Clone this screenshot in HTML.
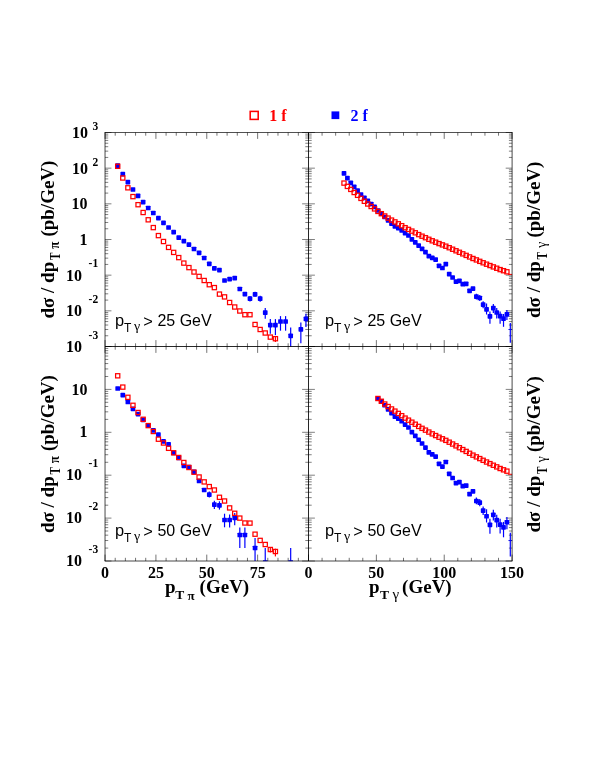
<!DOCTYPE html>
<html><head><meta charset="utf-8"><title>plot</title>
<style>
html,body{margin:0;padding:0;background:#fff;}
body{width:590px;height:763px;overflow:hidden;font-family:"Liberation Serif",serif;}
svg{display:block;will-change:transform;}
</style></head>
<body>
<svg width="590" height="763" viewBox="0 0 590 763">
<rect x="0" y="0" width="590" height="763" fill="#ffffff"/>
<g id="ticks" shape-rendering="auto">
<line x1="105.04" y1="132.5" x2="111.44" y2="132.5" stroke="#000" stroke-width="0.5"/>
<line x1="105.04" y1="157.43" x2="108.24" y2="157.43" stroke="#000" stroke-width="0.5"/>
<line x1="105.04" y1="151.15" x2="108.24" y2="151.15" stroke="#000" stroke-width="0.5"/>
<line x1="105.04" y1="146.69" x2="108.24" y2="146.69" stroke="#000" stroke-width="0.5"/>
<line x1="105.04" y1="143.24" x2="108.24" y2="143.24" stroke="#000" stroke-width="0.5"/>
<line x1="105.04" y1="140.41" x2="108.24" y2="140.41" stroke="#000" stroke-width="0.5"/>
<line x1="105.04" y1="138.02" x2="108.24" y2="138.02" stroke="#000" stroke-width="0.5"/>
<line x1="105.04" y1="135.96" x2="108.24" y2="135.96" stroke="#000" stroke-width="0.5"/>
<line x1="105.04" y1="134.13" x2="108.24" y2="134.13" stroke="#000" stroke-width="0.5"/>
<line x1="105.04" y1="168.17" x2="111.44" y2="168.17" stroke="#000" stroke-width="0.5"/>
<line x1="105.04" y1="193.1" x2="108.24" y2="193.1" stroke="#000" stroke-width="0.5"/>
<line x1="105.04" y1="186.82" x2="108.24" y2="186.82" stroke="#000" stroke-width="0.5"/>
<line x1="105.04" y1="182.36" x2="108.24" y2="182.36" stroke="#000" stroke-width="0.5"/>
<line x1="105.04" y1="178.9" x2="108.24" y2="178.9" stroke="#000" stroke-width="0.5"/>
<line x1="105.04" y1="176.08" x2="108.24" y2="176.08" stroke="#000" stroke-width="0.5"/>
<line x1="105.04" y1="173.69" x2="108.24" y2="173.69" stroke="#000" stroke-width="0.5"/>
<line x1="105.04" y1="171.62" x2="108.24" y2="171.62" stroke="#000" stroke-width="0.5"/>
<line x1="105.04" y1="169.8" x2="108.24" y2="169.8" stroke="#000" stroke-width="0.5"/>
<line x1="105.04" y1="203.83" x2="111.44" y2="203.83" stroke="#000" stroke-width="0.5"/>
<line x1="105.04" y1="228.76" x2="108.24" y2="228.76" stroke="#000" stroke-width="0.5"/>
<line x1="105.04" y1="222.48" x2="108.24" y2="222.48" stroke="#000" stroke-width="0.5"/>
<line x1="105.04" y1="218.03" x2="108.24" y2="218.03" stroke="#000" stroke-width="0.5"/>
<line x1="105.04" y1="214.57" x2="108.24" y2="214.57" stroke="#000" stroke-width="0.5"/>
<line x1="105.04" y1="211.75" x2="108.24" y2="211.75" stroke="#000" stroke-width="0.5"/>
<line x1="105.04" y1="209.36" x2="108.24" y2="209.36" stroke="#000" stroke-width="0.5"/>
<line x1="105.04" y1="207.29" x2="108.24" y2="207.29" stroke="#000" stroke-width="0.5"/>
<line x1="105.04" y1="205.47" x2="108.24" y2="205.47" stroke="#000" stroke-width="0.5"/>
<line x1="105.04" y1="239.5" x2="111.44" y2="239.5" stroke="#000" stroke-width="0.5"/>
<line x1="105.04" y1="264.43" x2="108.24" y2="264.43" stroke="#000" stroke-width="0.5"/>
<line x1="105.04" y1="258.15" x2="108.24" y2="258.15" stroke="#000" stroke-width="0.5"/>
<line x1="105.04" y1="253.69" x2="108.24" y2="253.69" stroke="#000" stroke-width="0.5"/>
<line x1="105.04" y1="250.24" x2="108.24" y2="250.24" stroke="#000" stroke-width="0.5"/>
<line x1="105.04" y1="247.41" x2="108.24" y2="247.41" stroke="#000" stroke-width="0.5"/>
<line x1="105.04" y1="245.02" x2="108.24" y2="245.02" stroke="#000" stroke-width="0.5"/>
<line x1="105.04" y1="242.96" x2="108.24" y2="242.96" stroke="#000" stroke-width="0.5"/>
<line x1="105.04" y1="241.13" x2="108.24" y2="241.13" stroke="#000" stroke-width="0.5"/>
<line x1="105.04" y1="275.17" x2="111.44" y2="275.17" stroke="#000" stroke-width="0.5"/>
<line x1="105.04" y1="300.1" x2="108.24" y2="300.1" stroke="#000" stroke-width="0.5"/>
<line x1="105.04" y1="293.82" x2="108.24" y2="293.82" stroke="#000" stroke-width="0.5"/>
<line x1="105.04" y1="289.36" x2="108.24" y2="289.36" stroke="#000" stroke-width="0.5"/>
<line x1="105.04" y1="285.9" x2="108.24" y2="285.9" stroke="#000" stroke-width="0.5"/>
<line x1="105.04" y1="283.08" x2="108.24" y2="283.08" stroke="#000" stroke-width="0.5"/>
<line x1="105.04" y1="280.69" x2="108.24" y2="280.69" stroke="#000" stroke-width="0.5"/>
<line x1="105.04" y1="278.62" x2="108.24" y2="278.62" stroke="#000" stroke-width="0.5"/>
<line x1="105.04" y1="276.8" x2="108.24" y2="276.8" stroke="#000" stroke-width="0.5"/>
<line x1="105.04" y1="310.83" x2="111.44" y2="310.83" stroke="#000" stroke-width="0.5"/>
<line x1="105.04" y1="335.76" x2="108.24" y2="335.76" stroke="#000" stroke-width="0.5"/>
<line x1="105.04" y1="329.48" x2="108.24" y2="329.48" stroke="#000" stroke-width="0.5"/>
<line x1="105.04" y1="325.03" x2="108.24" y2="325.03" stroke="#000" stroke-width="0.5"/>
<line x1="105.04" y1="321.57" x2="108.24" y2="321.57" stroke="#000" stroke-width="0.5"/>
<line x1="105.04" y1="318.75" x2="108.24" y2="318.75" stroke="#000" stroke-width="0.5"/>
<line x1="105.04" y1="316.36" x2="108.24" y2="316.36" stroke="#000" stroke-width="0.5"/>
<line x1="105.04" y1="314.29" x2="108.24" y2="314.29" stroke="#000" stroke-width="0.5"/>
<line x1="105.04" y1="312.47" x2="108.24" y2="312.47" stroke="#000" stroke-width="0.5"/>
<line x1="105.04" y1="346.5" x2="111.44" y2="346.5" stroke="#000" stroke-width="0.5"/>
<line x1="308.5" y1="132.5" x2="314.9" y2="132.5" stroke="#000" stroke-width="0.5"/>
<line x1="308.5" y1="132.5" x2="302.1" y2="132.5" stroke="#000" stroke-width="0.5"/>
<line x1="308.5" y1="157.43" x2="311.7" y2="157.43" stroke="#000" stroke-width="0.5"/>
<line x1="308.5" y1="157.43" x2="305.3" y2="157.43" stroke="#000" stroke-width="0.5"/>
<line x1="308.5" y1="151.15" x2="311.7" y2="151.15" stroke="#000" stroke-width="0.5"/>
<line x1="308.5" y1="151.15" x2="305.3" y2="151.15" stroke="#000" stroke-width="0.5"/>
<line x1="308.5" y1="146.69" x2="311.7" y2="146.69" stroke="#000" stroke-width="0.5"/>
<line x1="308.5" y1="146.69" x2="305.3" y2="146.69" stroke="#000" stroke-width="0.5"/>
<line x1="308.5" y1="143.24" x2="311.7" y2="143.24" stroke="#000" stroke-width="0.5"/>
<line x1="308.5" y1="143.24" x2="305.3" y2="143.24" stroke="#000" stroke-width="0.5"/>
<line x1="308.5" y1="140.41" x2="311.7" y2="140.41" stroke="#000" stroke-width="0.5"/>
<line x1="308.5" y1="140.41" x2="305.3" y2="140.41" stroke="#000" stroke-width="0.5"/>
<line x1="308.5" y1="138.02" x2="311.7" y2="138.02" stroke="#000" stroke-width="0.5"/>
<line x1="308.5" y1="138.02" x2="305.3" y2="138.02" stroke="#000" stroke-width="0.5"/>
<line x1="308.5" y1="135.96" x2="311.7" y2="135.96" stroke="#000" stroke-width="0.5"/>
<line x1="308.5" y1="135.96" x2="305.3" y2="135.96" stroke="#000" stroke-width="0.5"/>
<line x1="308.5" y1="134.13" x2="311.7" y2="134.13" stroke="#000" stroke-width="0.5"/>
<line x1="308.5" y1="134.13" x2="305.3" y2="134.13" stroke="#000" stroke-width="0.5"/>
<line x1="308.5" y1="168.17" x2="314.9" y2="168.17" stroke="#000" stroke-width="0.5"/>
<line x1="308.5" y1="168.17" x2="302.1" y2="168.17" stroke="#000" stroke-width="0.5"/>
<line x1="308.5" y1="193.1" x2="311.7" y2="193.1" stroke="#000" stroke-width="0.5"/>
<line x1="308.5" y1="193.1" x2="305.3" y2="193.1" stroke="#000" stroke-width="0.5"/>
<line x1="308.5" y1="186.82" x2="311.7" y2="186.82" stroke="#000" stroke-width="0.5"/>
<line x1="308.5" y1="186.82" x2="305.3" y2="186.82" stroke="#000" stroke-width="0.5"/>
<line x1="308.5" y1="182.36" x2="311.7" y2="182.36" stroke="#000" stroke-width="0.5"/>
<line x1="308.5" y1="182.36" x2="305.3" y2="182.36" stroke="#000" stroke-width="0.5"/>
<line x1="308.5" y1="178.9" x2="311.7" y2="178.9" stroke="#000" stroke-width="0.5"/>
<line x1="308.5" y1="178.9" x2="305.3" y2="178.9" stroke="#000" stroke-width="0.5"/>
<line x1="308.5" y1="176.08" x2="311.7" y2="176.08" stroke="#000" stroke-width="0.5"/>
<line x1="308.5" y1="176.08" x2="305.3" y2="176.08" stroke="#000" stroke-width="0.5"/>
<line x1="308.5" y1="173.69" x2="311.7" y2="173.69" stroke="#000" stroke-width="0.5"/>
<line x1="308.5" y1="173.69" x2="305.3" y2="173.69" stroke="#000" stroke-width="0.5"/>
<line x1="308.5" y1="171.62" x2="311.7" y2="171.62" stroke="#000" stroke-width="0.5"/>
<line x1="308.5" y1="171.62" x2="305.3" y2="171.62" stroke="#000" stroke-width="0.5"/>
<line x1="308.5" y1="169.8" x2="311.7" y2="169.8" stroke="#000" stroke-width="0.5"/>
<line x1="308.5" y1="169.8" x2="305.3" y2="169.8" stroke="#000" stroke-width="0.5"/>
<line x1="308.5" y1="203.83" x2="314.9" y2="203.83" stroke="#000" stroke-width="0.5"/>
<line x1="308.5" y1="203.83" x2="302.1" y2="203.83" stroke="#000" stroke-width="0.5"/>
<line x1="308.5" y1="228.76" x2="311.7" y2="228.76" stroke="#000" stroke-width="0.5"/>
<line x1="308.5" y1="228.76" x2="305.3" y2="228.76" stroke="#000" stroke-width="0.5"/>
<line x1="308.5" y1="222.48" x2="311.7" y2="222.48" stroke="#000" stroke-width="0.5"/>
<line x1="308.5" y1="222.48" x2="305.3" y2="222.48" stroke="#000" stroke-width="0.5"/>
<line x1="308.5" y1="218.03" x2="311.7" y2="218.03" stroke="#000" stroke-width="0.5"/>
<line x1="308.5" y1="218.03" x2="305.3" y2="218.03" stroke="#000" stroke-width="0.5"/>
<line x1="308.5" y1="214.57" x2="311.7" y2="214.57" stroke="#000" stroke-width="0.5"/>
<line x1="308.5" y1="214.57" x2="305.3" y2="214.57" stroke="#000" stroke-width="0.5"/>
<line x1="308.5" y1="211.75" x2="311.7" y2="211.75" stroke="#000" stroke-width="0.5"/>
<line x1="308.5" y1="211.75" x2="305.3" y2="211.75" stroke="#000" stroke-width="0.5"/>
<line x1="308.5" y1="209.36" x2="311.7" y2="209.36" stroke="#000" stroke-width="0.5"/>
<line x1="308.5" y1="209.36" x2="305.3" y2="209.36" stroke="#000" stroke-width="0.5"/>
<line x1="308.5" y1="207.29" x2="311.7" y2="207.29" stroke="#000" stroke-width="0.5"/>
<line x1="308.5" y1="207.29" x2="305.3" y2="207.29" stroke="#000" stroke-width="0.5"/>
<line x1="308.5" y1="205.47" x2="311.7" y2="205.47" stroke="#000" stroke-width="0.5"/>
<line x1="308.5" y1="205.47" x2="305.3" y2="205.47" stroke="#000" stroke-width="0.5"/>
<line x1="308.5" y1="239.5" x2="314.9" y2="239.5" stroke="#000" stroke-width="0.5"/>
<line x1="308.5" y1="239.5" x2="302.1" y2="239.5" stroke="#000" stroke-width="0.5"/>
<line x1="308.5" y1="264.43" x2="311.7" y2="264.43" stroke="#000" stroke-width="0.5"/>
<line x1="308.5" y1="264.43" x2="305.3" y2="264.43" stroke="#000" stroke-width="0.5"/>
<line x1="308.5" y1="258.15" x2="311.7" y2="258.15" stroke="#000" stroke-width="0.5"/>
<line x1="308.5" y1="258.15" x2="305.3" y2="258.15" stroke="#000" stroke-width="0.5"/>
<line x1="308.5" y1="253.69" x2="311.7" y2="253.69" stroke="#000" stroke-width="0.5"/>
<line x1="308.5" y1="253.69" x2="305.3" y2="253.69" stroke="#000" stroke-width="0.5"/>
<line x1="308.5" y1="250.24" x2="311.7" y2="250.24" stroke="#000" stroke-width="0.5"/>
<line x1="308.5" y1="250.24" x2="305.3" y2="250.24" stroke="#000" stroke-width="0.5"/>
<line x1="308.5" y1="247.41" x2="311.7" y2="247.41" stroke="#000" stroke-width="0.5"/>
<line x1="308.5" y1="247.41" x2="305.3" y2="247.41" stroke="#000" stroke-width="0.5"/>
<line x1="308.5" y1="245.02" x2="311.7" y2="245.02" stroke="#000" stroke-width="0.5"/>
<line x1="308.5" y1="245.02" x2="305.3" y2="245.02" stroke="#000" stroke-width="0.5"/>
<line x1="308.5" y1="242.96" x2="311.7" y2="242.96" stroke="#000" stroke-width="0.5"/>
<line x1="308.5" y1="242.96" x2="305.3" y2="242.96" stroke="#000" stroke-width="0.5"/>
<line x1="308.5" y1="241.13" x2="311.7" y2="241.13" stroke="#000" stroke-width="0.5"/>
<line x1="308.5" y1="241.13" x2="305.3" y2="241.13" stroke="#000" stroke-width="0.5"/>
<line x1="308.5" y1="275.17" x2="314.9" y2="275.17" stroke="#000" stroke-width="0.5"/>
<line x1="308.5" y1="275.17" x2="302.1" y2="275.17" stroke="#000" stroke-width="0.5"/>
<line x1="308.5" y1="300.1" x2="311.7" y2="300.1" stroke="#000" stroke-width="0.5"/>
<line x1="308.5" y1="300.1" x2="305.3" y2="300.1" stroke="#000" stroke-width="0.5"/>
<line x1="308.5" y1="293.82" x2="311.7" y2="293.82" stroke="#000" stroke-width="0.5"/>
<line x1="308.5" y1="293.82" x2="305.3" y2="293.82" stroke="#000" stroke-width="0.5"/>
<line x1="308.5" y1="289.36" x2="311.7" y2="289.36" stroke="#000" stroke-width="0.5"/>
<line x1="308.5" y1="289.36" x2="305.3" y2="289.36" stroke="#000" stroke-width="0.5"/>
<line x1="308.5" y1="285.9" x2="311.7" y2="285.9" stroke="#000" stroke-width="0.5"/>
<line x1="308.5" y1="285.9" x2="305.3" y2="285.9" stroke="#000" stroke-width="0.5"/>
<line x1="308.5" y1="283.08" x2="311.7" y2="283.08" stroke="#000" stroke-width="0.5"/>
<line x1="308.5" y1="283.08" x2="305.3" y2="283.08" stroke="#000" stroke-width="0.5"/>
<line x1="308.5" y1="280.69" x2="311.7" y2="280.69" stroke="#000" stroke-width="0.5"/>
<line x1="308.5" y1="280.69" x2="305.3" y2="280.69" stroke="#000" stroke-width="0.5"/>
<line x1="308.5" y1="278.62" x2="311.7" y2="278.62" stroke="#000" stroke-width="0.5"/>
<line x1="308.5" y1="278.62" x2="305.3" y2="278.62" stroke="#000" stroke-width="0.5"/>
<line x1="308.5" y1="276.8" x2="311.7" y2="276.8" stroke="#000" stroke-width="0.5"/>
<line x1="308.5" y1="276.8" x2="305.3" y2="276.8" stroke="#000" stroke-width="0.5"/>
<line x1="308.5" y1="310.83" x2="314.9" y2="310.83" stroke="#000" stroke-width="0.5"/>
<line x1="308.5" y1="310.83" x2="302.1" y2="310.83" stroke="#000" stroke-width="0.5"/>
<line x1="308.5" y1="335.76" x2="311.7" y2="335.76" stroke="#000" stroke-width="0.5"/>
<line x1="308.5" y1="335.76" x2="305.3" y2="335.76" stroke="#000" stroke-width="0.5"/>
<line x1="308.5" y1="329.48" x2="311.7" y2="329.48" stroke="#000" stroke-width="0.5"/>
<line x1="308.5" y1="329.48" x2="305.3" y2="329.48" stroke="#000" stroke-width="0.5"/>
<line x1="308.5" y1="325.03" x2="311.7" y2="325.03" stroke="#000" stroke-width="0.5"/>
<line x1="308.5" y1="325.03" x2="305.3" y2="325.03" stroke="#000" stroke-width="0.5"/>
<line x1="308.5" y1="321.57" x2="311.7" y2="321.57" stroke="#000" stroke-width="0.5"/>
<line x1="308.5" y1="321.57" x2="305.3" y2="321.57" stroke="#000" stroke-width="0.5"/>
<line x1="308.5" y1="318.75" x2="311.7" y2="318.75" stroke="#000" stroke-width="0.5"/>
<line x1="308.5" y1="318.75" x2="305.3" y2="318.75" stroke="#000" stroke-width="0.5"/>
<line x1="308.5" y1="316.36" x2="311.7" y2="316.36" stroke="#000" stroke-width="0.5"/>
<line x1="308.5" y1="316.36" x2="305.3" y2="316.36" stroke="#000" stroke-width="0.5"/>
<line x1="308.5" y1="314.29" x2="311.7" y2="314.29" stroke="#000" stroke-width="0.5"/>
<line x1="308.5" y1="314.29" x2="305.3" y2="314.29" stroke="#000" stroke-width="0.5"/>
<line x1="308.5" y1="312.47" x2="311.7" y2="312.47" stroke="#000" stroke-width="0.5"/>
<line x1="308.5" y1="312.47" x2="305.3" y2="312.47" stroke="#000" stroke-width="0.5"/>
<line x1="308.5" y1="346.5" x2="314.9" y2="346.5" stroke="#000" stroke-width="0.5"/>
<line x1="308.5" y1="346.5" x2="302.1" y2="346.5" stroke="#000" stroke-width="0.5"/>
<line x1="512.1" y1="132.5" x2="505.7" y2="132.5" stroke="#000" stroke-width="0.5"/>
<line x1="512.1" y1="157.43" x2="508.9" y2="157.43" stroke="#000" stroke-width="0.5"/>
<line x1="512.1" y1="151.15" x2="508.9" y2="151.15" stroke="#000" stroke-width="0.5"/>
<line x1="512.1" y1="146.69" x2="508.9" y2="146.69" stroke="#000" stroke-width="0.5"/>
<line x1="512.1" y1="143.24" x2="508.9" y2="143.24" stroke="#000" stroke-width="0.5"/>
<line x1="512.1" y1="140.41" x2="508.9" y2="140.41" stroke="#000" stroke-width="0.5"/>
<line x1="512.1" y1="138.02" x2="508.9" y2="138.02" stroke="#000" stroke-width="0.5"/>
<line x1="512.1" y1="135.96" x2="508.9" y2="135.96" stroke="#000" stroke-width="0.5"/>
<line x1="512.1" y1="134.13" x2="508.9" y2="134.13" stroke="#000" stroke-width="0.5"/>
<line x1="512.1" y1="168.17" x2="505.7" y2="168.17" stroke="#000" stroke-width="0.5"/>
<line x1="512.1" y1="193.1" x2="508.9" y2="193.1" stroke="#000" stroke-width="0.5"/>
<line x1="512.1" y1="186.82" x2="508.9" y2="186.82" stroke="#000" stroke-width="0.5"/>
<line x1="512.1" y1="182.36" x2="508.9" y2="182.36" stroke="#000" stroke-width="0.5"/>
<line x1="512.1" y1="178.9" x2="508.9" y2="178.9" stroke="#000" stroke-width="0.5"/>
<line x1="512.1" y1="176.08" x2="508.9" y2="176.08" stroke="#000" stroke-width="0.5"/>
<line x1="512.1" y1="173.69" x2="508.9" y2="173.69" stroke="#000" stroke-width="0.5"/>
<line x1="512.1" y1="171.62" x2="508.9" y2="171.62" stroke="#000" stroke-width="0.5"/>
<line x1="512.1" y1="169.8" x2="508.9" y2="169.8" stroke="#000" stroke-width="0.5"/>
<line x1="512.1" y1="203.83" x2="505.7" y2="203.83" stroke="#000" stroke-width="0.5"/>
<line x1="512.1" y1="228.76" x2="508.9" y2="228.76" stroke="#000" stroke-width="0.5"/>
<line x1="512.1" y1="222.48" x2="508.9" y2="222.48" stroke="#000" stroke-width="0.5"/>
<line x1="512.1" y1="218.03" x2="508.9" y2="218.03" stroke="#000" stroke-width="0.5"/>
<line x1="512.1" y1="214.57" x2="508.9" y2="214.57" stroke="#000" stroke-width="0.5"/>
<line x1="512.1" y1="211.75" x2="508.9" y2="211.75" stroke="#000" stroke-width="0.5"/>
<line x1="512.1" y1="209.36" x2="508.9" y2="209.36" stroke="#000" stroke-width="0.5"/>
<line x1="512.1" y1="207.29" x2="508.9" y2="207.29" stroke="#000" stroke-width="0.5"/>
<line x1="512.1" y1="205.47" x2="508.9" y2="205.47" stroke="#000" stroke-width="0.5"/>
<line x1="512.1" y1="239.5" x2="505.7" y2="239.5" stroke="#000" stroke-width="0.5"/>
<line x1="512.1" y1="264.43" x2="508.9" y2="264.43" stroke="#000" stroke-width="0.5"/>
<line x1="512.1" y1="258.15" x2="508.9" y2="258.15" stroke="#000" stroke-width="0.5"/>
<line x1="512.1" y1="253.69" x2="508.9" y2="253.69" stroke="#000" stroke-width="0.5"/>
<line x1="512.1" y1="250.24" x2="508.9" y2="250.24" stroke="#000" stroke-width="0.5"/>
<line x1="512.1" y1="247.41" x2="508.9" y2="247.41" stroke="#000" stroke-width="0.5"/>
<line x1="512.1" y1="245.02" x2="508.9" y2="245.02" stroke="#000" stroke-width="0.5"/>
<line x1="512.1" y1="242.96" x2="508.9" y2="242.96" stroke="#000" stroke-width="0.5"/>
<line x1="512.1" y1="241.13" x2="508.9" y2="241.13" stroke="#000" stroke-width="0.5"/>
<line x1="512.1" y1="275.17" x2="505.7" y2="275.17" stroke="#000" stroke-width="0.5"/>
<line x1="512.1" y1="300.1" x2="508.9" y2="300.1" stroke="#000" stroke-width="0.5"/>
<line x1="512.1" y1="293.82" x2="508.9" y2="293.82" stroke="#000" stroke-width="0.5"/>
<line x1="512.1" y1="289.36" x2="508.9" y2="289.36" stroke="#000" stroke-width="0.5"/>
<line x1="512.1" y1="285.9" x2="508.9" y2="285.9" stroke="#000" stroke-width="0.5"/>
<line x1="512.1" y1="283.08" x2="508.9" y2="283.08" stroke="#000" stroke-width="0.5"/>
<line x1="512.1" y1="280.69" x2="508.9" y2="280.69" stroke="#000" stroke-width="0.5"/>
<line x1="512.1" y1="278.62" x2="508.9" y2="278.62" stroke="#000" stroke-width="0.5"/>
<line x1="512.1" y1="276.8" x2="508.9" y2="276.8" stroke="#000" stroke-width="0.5"/>
<line x1="512.1" y1="310.83" x2="505.7" y2="310.83" stroke="#000" stroke-width="0.5"/>
<line x1="512.1" y1="335.76" x2="508.9" y2="335.76" stroke="#000" stroke-width="0.5"/>
<line x1="512.1" y1="329.48" x2="508.9" y2="329.48" stroke="#000" stroke-width="0.5"/>
<line x1="512.1" y1="325.03" x2="508.9" y2="325.03" stroke="#000" stroke-width="0.5"/>
<line x1="512.1" y1="321.57" x2="508.9" y2="321.57" stroke="#000" stroke-width="0.5"/>
<line x1="512.1" y1="318.75" x2="508.9" y2="318.75" stroke="#000" stroke-width="0.5"/>
<line x1="512.1" y1="316.36" x2="508.9" y2="316.36" stroke="#000" stroke-width="0.5"/>
<line x1="512.1" y1="314.29" x2="508.9" y2="314.29" stroke="#000" stroke-width="0.5"/>
<line x1="512.1" y1="312.47" x2="508.9" y2="312.47" stroke="#000" stroke-width="0.5"/>
<line x1="512.1" y1="346.5" x2="505.7" y2="346.5" stroke="#000" stroke-width="0.5"/>
<line x1="105.04" y1="346.5" x2="111.44" y2="346.5" stroke="#000" stroke-width="0.5"/>
<line x1="105.04" y1="376.49" x2="108.24" y2="376.49" stroke="#000" stroke-width="0.5"/>
<line x1="105.04" y1="368.93" x2="108.24" y2="368.93" stroke="#000" stroke-width="0.5"/>
<line x1="105.04" y1="363.57" x2="108.24" y2="363.57" stroke="#000" stroke-width="0.5"/>
<line x1="105.04" y1="359.41" x2="108.24" y2="359.41" stroke="#000" stroke-width="0.5"/>
<line x1="105.04" y1="356.02" x2="108.24" y2="356.02" stroke="#000" stroke-width="0.5"/>
<line x1="105.04" y1="353.15" x2="108.24" y2="353.15" stroke="#000" stroke-width="0.5"/>
<line x1="105.04" y1="350.66" x2="108.24" y2="350.66" stroke="#000" stroke-width="0.5"/>
<line x1="105.04" y1="348.46" x2="108.24" y2="348.46" stroke="#000" stroke-width="0.5"/>
<line x1="105.04" y1="389.4" x2="111.44" y2="389.4" stroke="#000" stroke-width="0.5"/>
<line x1="105.04" y1="419.39" x2="108.24" y2="419.39" stroke="#000" stroke-width="0.5"/>
<line x1="105.04" y1="411.83" x2="108.24" y2="411.83" stroke="#000" stroke-width="0.5"/>
<line x1="105.04" y1="406.47" x2="108.24" y2="406.47" stroke="#000" stroke-width="0.5"/>
<line x1="105.04" y1="402.31" x2="108.24" y2="402.31" stroke="#000" stroke-width="0.5"/>
<line x1="105.04" y1="398.92" x2="108.24" y2="398.92" stroke="#000" stroke-width="0.5"/>
<line x1="105.04" y1="396.05" x2="108.24" y2="396.05" stroke="#000" stroke-width="0.5"/>
<line x1="105.04" y1="393.56" x2="108.24" y2="393.56" stroke="#000" stroke-width="0.5"/>
<line x1="105.04" y1="391.36" x2="108.24" y2="391.36" stroke="#000" stroke-width="0.5"/>
<line x1="105.04" y1="432.3" x2="111.44" y2="432.3" stroke="#000" stroke-width="0.5"/>
<line x1="105.04" y1="462.29" x2="108.24" y2="462.29" stroke="#000" stroke-width="0.5"/>
<line x1="105.04" y1="454.73" x2="108.24" y2="454.73" stroke="#000" stroke-width="0.5"/>
<line x1="105.04" y1="449.37" x2="108.24" y2="449.37" stroke="#000" stroke-width="0.5"/>
<line x1="105.04" y1="445.21" x2="108.24" y2="445.21" stroke="#000" stroke-width="0.5"/>
<line x1="105.04" y1="441.82" x2="108.24" y2="441.82" stroke="#000" stroke-width="0.5"/>
<line x1="105.04" y1="438.95" x2="108.24" y2="438.95" stroke="#000" stroke-width="0.5"/>
<line x1="105.04" y1="436.46" x2="108.24" y2="436.46" stroke="#000" stroke-width="0.5"/>
<line x1="105.04" y1="434.26" x2="108.24" y2="434.26" stroke="#000" stroke-width="0.5"/>
<line x1="105.04" y1="475.2" x2="111.44" y2="475.2" stroke="#000" stroke-width="0.5"/>
<line x1="105.04" y1="505.19" x2="108.24" y2="505.19" stroke="#000" stroke-width="0.5"/>
<line x1="105.04" y1="497.63" x2="108.24" y2="497.63" stroke="#000" stroke-width="0.5"/>
<line x1="105.04" y1="492.27" x2="108.24" y2="492.27" stroke="#000" stroke-width="0.5"/>
<line x1="105.04" y1="488.11" x2="108.24" y2="488.11" stroke="#000" stroke-width="0.5"/>
<line x1="105.04" y1="484.72" x2="108.24" y2="484.72" stroke="#000" stroke-width="0.5"/>
<line x1="105.04" y1="481.85" x2="108.24" y2="481.85" stroke="#000" stroke-width="0.5"/>
<line x1="105.04" y1="479.36" x2="108.24" y2="479.36" stroke="#000" stroke-width="0.5"/>
<line x1="105.04" y1="477.16" x2="108.24" y2="477.16" stroke="#000" stroke-width="0.5"/>
<line x1="105.04" y1="518.1" x2="111.44" y2="518.1" stroke="#000" stroke-width="0.5"/>
<line x1="105.04" y1="548.09" x2="108.24" y2="548.09" stroke="#000" stroke-width="0.5"/>
<line x1="105.04" y1="540.53" x2="108.24" y2="540.53" stroke="#000" stroke-width="0.5"/>
<line x1="105.04" y1="535.17" x2="108.24" y2="535.17" stroke="#000" stroke-width="0.5"/>
<line x1="105.04" y1="531.01" x2="108.24" y2="531.01" stroke="#000" stroke-width="0.5"/>
<line x1="105.04" y1="527.62" x2="108.24" y2="527.62" stroke="#000" stroke-width="0.5"/>
<line x1="105.04" y1="524.75" x2="108.24" y2="524.75" stroke="#000" stroke-width="0.5"/>
<line x1="105.04" y1="522.26" x2="108.24" y2="522.26" stroke="#000" stroke-width="0.5"/>
<line x1="105.04" y1="520.06" x2="108.24" y2="520.06" stroke="#000" stroke-width="0.5"/>
<line x1="105.04" y1="561" x2="111.44" y2="561" stroke="#000" stroke-width="0.5"/>
<line x1="308.5" y1="346.5" x2="314.9" y2="346.5" stroke="#000" stroke-width="0.5"/>
<line x1="308.5" y1="346.5" x2="302.1" y2="346.5" stroke="#000" stroke-width="0.5"/>
<line x1="308.5" y1="376.49" x2="311.7" y2="376.49" stroke="#000" stroke-width="0.5"/>
<line x1="308.5" y1="376.49" x2="305.3" y2="376.49" stroke="#000" stroke-width="0.5"/>
<line x1="308.5" y1="368.93" x2="311.7" y2="368.93" stroke="#000" stroke-width="0.5"/>
<line x1="308.5" y1="368.93" x2="305.3" y2="368.93" stroke="#000" stroke-width="0.5"/>
<line x1="308.5" y1="363.57" x2="311.7" y2="363.57" stroke="#000" stroke-width="0.5"/>
<line x1="308.5" y1="363.57" x2="305.3" y2="363.57" stroke="#000" stroke-width="0.5"/>
<line x1="308.5" y1="359.41" x2="311.7" y2="359.41" stroke="#000" stroke-width="0.5"/>
<line x1="308.5" y1="359.41" x2="305.3" y2="359.41" stroke="#000" stroke-width="0.5"/>
<line x1="308.5" y1="356.02" x2="311.7" y2="356.02" stroke="#000" stroke-width="0.5"/>
<line x1="308.5" y1="356.02" x2="305.3" y2="356.02" stroke="#000" stroke-width="0.5"/>
<line x1="308.5" y1="353.15" x2="311.7" y2="353.15" stroke="#000" stroke-width="0.5"/>
<line x1="308.5" y1="353.15" x2="305.3" y2="353.15" stroke="#000" stroke-width="0.5"/>
<line x1="308.5" y1="350.66" x2="311.7" y2="350.66" stroke="#000" stroke-width="0.5"/>
<line x1="308.5" y1="350.66" x2="305.3" y2="350.66" stroke="#000" stroke-width="0.5"/>
<line x1="308.5" y1="348.46" x2="311.7" y2="348.46" stroke="#000" stroke-width="0.5"/>
<line x1="308.5" y1="348.46" x2="305.3" y2="348.46" stroke="#000" stroke-width="0.5"/>
<line x1="308.5" y1="389.4" x2="314.9" y2="389.4" stroke="#000" stroke-width="0.5"/>
<line x1="308.5" y1="389.4" x2="302.1" y2="389.4" stroke="#000" stroke-width="0.5"/>
<line x1="308.5" y1="419.39" x2="311.7" y2="419.39" stroke="#000" stroke-width="0.5"/>
<line x1="308.5" y1="419.39" x2="305.3" y2="419.39" stroke="#000" stroke-width="0.5"/>
<line x1="308.5" y1="411.83" x2="311.7" y2="411.83" stroke="#000" stroke-width="0.5"/>
<line x1="308.5" y1="411.83" x2="305.3" y2="411.83" stroke="#000" stroke-width="0.5"/>
<line x1="308.5" y1="406.47" x2="311.7" y2="406.47" stroke="#000" stroke-width="0.5"/>
<line x1="308.5" y1="406.47" x2="305.3" y2="406.47" stroke="#000" stroke-width="0.5"/>
<line x1="308.5" y1="402.31" x2="311.7" y2="402.31" stroke="#000" stroke-width="0.5"/>
<line x1="308.5" y1="402.31" x2="305.3" y2="402.31" stroke="#000" stroke-width="0.5"/>
<line x1="308.5" y1="398.92" x2="311.7" y2="398.92" stroke="#000" stroke-width="0.5"/>
<line x1="308.5" y1="398.92" x2="305.3" y2="398.92" stroke="#000" stroke-width="0.5"/>
<line x1="308.5" y1="396.05" x2="311.7" y2="396.05" stroke="#000" stroke-width="0.5"/>
<line x1="308.5" y1="396.05" x2="305.3" y2="396.05" stroke="#000" stroke-width="0.5"/>
<line x1="308.5" y1="393.56" x2="311.7" y2="393.56" stroke="#000" stroke-width="0.5"/>
<line x1="308.5" y1="393.56" x2="305.3" y2="393.56" stroke="#000" stroke-width="0.5"/>
<line x1="308.5" y1="391.36" x2="311.7" y2="391.36" stroke="#000" stroke-width="0.5"/>
<line x1="308.5" y1="391.36" x2="305.3" y2="391.36" stroke="#000" stroke-width="0.5"/>
<line x1="308.5" y1="432.3" x2="314.9" y2="432.3" stroke="#000" stroke-width="0.5"/>
<line x1="308.5" y1="432.3" x2="302.1" y2="432.3" stroke="#000" stroke-width="0.5"/>
<line x1="308.5" y1="462.29" x2="311.7" y2="462.29" stroke="#000" stroke-width="0.5"/>
<line x1="308.5" y1="462.29" x2="305.3" y2="462.29" stroke="#000" stroke-width="0.5"/>
<line x1="308.5" y1="454.73" x2="311.7" y2="454.73" stroke="#000" stroke-width="0.5"/>
<line x1="308.5" y1="454.73" x2="305.3" y2="454.73" stroke="#000" stroke-width="0.5"/>
<line x1="308.5" y1="449.37" x2="311.7" y2="449.37" stroke="#000" stroke-width="0.5"/>
<line x1="308.5" y1="449.37" x2="305.3" y2="449.37" stroke="#000" stroke-width="0.5"/>
<line x1="308.5" y1="445.21" x2="311.7" y2="445.21" stroke="#000" stroke-width="0.5"/>
<line x1="308.5" y1="445.21" x2="305.3" y2="445.21" stroke="#000" stroke-width="0.5"/>
<line x1="308.5" y1="441.82" x2="311.7" y2="441.82" stroke="#000" stroke-width="0.5"/>
<line x1="308.5" y1="441.82" x2="305.3" y2="441.82" stroke="#000" stroke-width="0.5"/>
<line x1="308.5" y1="438.95" x2="311.7" y2="438.95" stroke="#000" stroke-width="0.5"/>
<line x1="308.5" y1="438.95" x2="305.3" y2="438.95" stroke="#000" stroke-width="0.5"/>
<line x1="308.5" y1="436.46" x2="311.7" y2="436.46" stroke="#000" stroke-width="0.5"/>
<line x1="308.5" y1="436.46" x2="305.3" y2="436.46" stroke="#000" stroke-width="0.5"/>
<line x1="308.5" y1="434.26" x2="311.7" y2="434.26" stroke="#000" stroke-width="0.5"/>
<line x1="308.5" y1="434.26" x2="305.3" y2="434.26" stroke="#000" stroke-width="0.5"/>
<line x1="308.5" y1="475.2" x2="314.9" y2="475.2" stroke="#000" stroke-width="0.5"/>
<line x1="308.5" y1="475.2" x2="302.1" y2="475.2" stroke="#000" stroke-width="0.5"/>
<line x1="308.5" y1="505.19" x2="311.7" y2="505.19" stroke="#000" stroke-width="0.5"/>
<line x1="308.5" y1="505.19" x2="305.3" y2="505.19" stroke="#000" stroke-width="0.5"/>
<line x1="308.5" y1="497.63" x2="311.7" y2="497.63" stroke="#000" stroke-width="0.5"/>
<line x1="308.5" y1="497.63" x2="305.3" y2="497.63" stroke="#000" stroke-width="0.5"/>
<line x1="308.5" y1="492.27" x2="311.7" y2="492.27" stroke="#000" stroke-width="0.5"/>
<line x1="308.5" y1="492.27" x2="305.3" y2="492.27" stroke="#000" stroke-width="0.5"/>
<line x1="308.5" y1="488.11" x2="311.7" y2="488.11" stroke="#000" stroke-width="0.5"/>
<line x1="308.5" y1="488.11" x2="305.3" y2="488.11" stroke="#000" stroke-width="0.5"/>
<line x1="308.5" y1="484.72" x2="311.7" y2="484.72" stroke="#000" stroke-width="0.5"/>
<line x1="308.5" y1="484.72" x2="305.3" y2="484.72" stroke="#000" stroke-width="0.5"/>
<line x1="308.5" y1="481.85" x2="311.7" y2="481.85" stroke="#000" stroke-width="0.5"/>
<line x1="308.5" y1="481.85" x2="305.3" y2="481.85" stroke="#000" stroke-width="0.5"/>
<line x1="308.5" y1="479.36" x2="311.7" y2="479.36" stroke="#000" stroke-width="0.5"/>
<line x1="308.5" y1="479.36" x2="305.3" y2="479.36" stroke="#000" stroke-width="0.5"/>
<line x1="308.5" y1="477.16" x2="311.7" y2="477.16" stroke="#000" stroke-width="0.5"/>
<line x1="308.5" y1="477.16" x2="305.3" y2="477.16" stroke="#000" stroke-width="0.5"/>
<line x1="308.5" y1="518.1" x2="314.9" y2="518.1" stroke="#000" stroke-width="0.5"/>
<line x1="308.5" y1="518.1" x2="302.1" y2="518.1" stroke="#000" stroke-width="0.5"/>
<line x1="308.5" y1="548.09" x2="311.7" y2="548.09" stroke="#000" stroke-width="0.5"/>
<line x1="308.5" y1="548.09" x2="305.3" y2="548.09" stroke="#000" stroke-width="0.5"/>
<line x1="308.5" y1="540.53" x2="311.7" y2="540.53" stroke="#000" stroke-width="0.5"/>
<line x1="308.5" y1="540.53" x2="305.3" y2="540.53" stroke="#000" stroke-width="0.5"/>
<line x1="308.5" y1="535.17" x2="311.7" y2="535.17" stroke="#000" stroke-width="0.5"/>
<line x1="308.5" y1="535.17" x2="305.3" y2="535.17" stroke="#000" stroke-width="0.5"/>
<line x1="308.5" y1="531.01" x2="311.7" y2="531.01" stroke="#000" stroke-width="0.5"/>
<line x1="308.5" y1="531.01" x2="305.3" y2="531.01" stroke="#000" stroke-width="0.5"/>
<line x1="308.5" y1="527.62" x2="311.7" y2="527.62" stroke="#000" stroke-width="0.5"/>
<line x1="308.5" y1="527.62" x2="305.3" y2="527.62" stroke="#000" stroke-width="0.5"/>
<line x1="308.5" y1="524.75" x2="311.7" y2="524.75" stroke="#000" stroke-width="0.5"/>
<line x1="308.5" y1="524.75" x2="305.3" y2="524.75" stroke="#000" stroke-width="0.5"/>
<line x1="308.5" y1="522.26" x2="311.7" y2="522.26" stroke="#000" stroke-width="0.5"/>
<line x1="308.5" y1="522.26" x2="305.3" y2="522.26" stroke="#000" stroke-width="0.5"/>
<line x1="308.5" y1="520.06" x2="311.7" y2="520.06" stroke="#000" stroke-width="0.5"/>
<line x1="308.5" y1="520.06" x2="305.3" y2="520.06" stroke="#000" stroke-width="0.5"/>
<line x1="308.5" y1="561" x2="314.9" y2="561" stroke="#000" stroke-width="0.5"/>
<line x1="308.5" y1="561" x2="302.1" y2="561" stroke="#000" stroke-width="0.5"/>
<line x1="512.1" y1="346.5" x2="505.7" y2="346.5" stroke="#000" stroke-width="0.5"/>
<line x1="512.1" y1="376.49" x2="508.9" y2="376.49" stroke="#000" stroke-width="0.5"/>
<line x1="512.1" y1="368.93" x2="508.9" y2="368.93" stroke="#000" stroke-width="0.5"/>
<line x1="512.1" y1="363.57" x2="508.9" y2="363.57" stroke="#000" stroke-width="0.5"/>
<line x1="512.1" y1="359.41" x2="508.9" y2="359.41" stroke="#000" stroke-width="0.5"/>
<line x1="512.1" y1="356.02" x2="508.9" y2="356.02" stroke="#000" stroke-width="0.5"/>
<line x1="512.1" y1="353.15" x2="508.9" y2="353.15" stroke="#000" stroke-width="0.5"/>
<line x1="512.1" y1="350.66" x2="508.9" y2="350.66" stroke="#000" stroke-width="0.5"/>
<line x1="512.1" y1="348.46" x2="508.9" y2="348.46" stroke="#000" stroke-width="0.5"/>
<line x1="512.1" y1="389.4" x2="505.7" y2="389.4" stroke="#000" stroke-width="0.5"/>
<line x1="512.1" y1="419.39" x2="508.9" y2="419.39" stroke="#000" stroke-width="0.5"/>
<line x1="512.1" y1="411.83" x2="508.9" y2="411.83" stroke="#000" stroke-width="0.5"/>
<line x1="512.1" y1="406.47" x2="508.9" y2="406.47" stroke="#000" stroke-width="0.5"/>
<line x1="512.1" y1="402.31" x2="508.9" y2="402.31" stroke="#000" stroke-width="0.5"/>
<line x1="512.1" y1="398.92" x2="508.9" y2="398.92" stroke="#000" stroke-width="0.5"/>
<line x1="512.1" y1="396.05" x2="508.9" y2="396.05" stroke="#000" stroke-width="0.5"/>
<line x1="512.1" y1="393.56" x2="508.9" y2="393.56" stroke="#000" stroke-width="0.5"/>
<line x1="512.1" y1="391.36" x2="508.9" y2="391.36" stroke="#000" stroke-width="0.5"/>
<line x1="512.1" y1="432.3" x2="505.7" y2="432.3" stroke="#000" stroke-width="0.5"/>
<line x1="512.1" y1="462.29" x2="508.9" y2="462.29" stroke="#000" stroke-width="0.5"/>
<line x1="512.1" y1="454.73" x2="508.9" y2="454.73" stroke="#000" stroke-width="0.5"/>
<line x1="512.1" y1="449.37" x2="508.9" y2="449.37" stroke="#000" stroke-width="0.5"/>
<line x1="512.1" y1="445.21" x2="508.9" y2="445.21" stroke="#000" stroke-width="0.5"/>
<line x1="512.1" y1="441.82" x2="508.9" y2="441.82" stroke="#000" stroke-width="0.5"/>
<line x1="512.1" y1="438.95" x2="508.9" y2="438.95" stroke="#000" stroke-width="0.5"/>
<line x1="512.1" y1="436.46" x2="508.9" y2="436.46" stroke="#000" stroke-width="0.5"/>
<line x1="512.1" y1="434.26" x2="508.9" y2="434.26" stroke="#000" stroke-width="0.5"/>
<line x1="512.1" y1="475.2" x2="505.7" y2="475.2" stroke="#000" stroke-width="0.5"/>
<line x1="512.1" y1="505.19" x2="508.9" y2="505.19" stroke="#000" stroke-width="0.5"/>
<line x1="512.1" y1="497.63" x2="508.9" y2="497.63" stroke="#000" stroke-width="0.5"/>
<line x1="512.1" y1="492.27" x2="508.9" y2="492.27" stroke="#000" stroke-width="0.5"/>
<line x1="512.1" y1="488.11" x2="508.9" y2="488.11" stroke="#000" stroke-width="0.5"/>
<line x1="512.1" y1="484.72" x2="508.9" y2="484.72" stroke="#000" stroke-width="0.5"/>
<line x1="512.1" y1="481.85" x2="508.9" y2="481.85" stroke="#000" stroke-width="0.5"/>
<line x1="512.1" y1="479.36" x2="508.9" y2="479.36" stroke="#000" stroke-width="0.5"/>
<line x1="512.1" y1="477.16" x2="508.9" y2="477.16" stroke="#000" stroke-width="0.5"/>
<line x1="512.1" y1="518.1" x2="505.7" y2="518.1" stroke="#000" stroke-width="0.5"/>
<line x1="512.1" y1="548.09" x2="508.9" y2="548.09" stroke="#000" stroke-width="0.5"/>
<line x1="512.1" y1="540.53" x2="508.9" y2="540.53" stroke="#000" stroke-width="0.5"/>
<line x1="512.1" y1="535.17" x2="508.9" y2="535.17" stroke="#000" stroke-width="0.5"/>
<line x1="512.1" y1="531.01" x2="508.9" y2="531.01" stroke="#000" stroke-width="0.5"/>
<line x1="512.1" y1="527.62" x2="508.9" y2="527.62" stroke="#000" stroke-width="0.5"/>
<line x1="512.1" y1="524.75" x2="508.9" y2="524.75" stroke="#000" stroke-width="0.5"/>
<line x1="512.1" y1="522.26" x2="508.9" y2="522.26" stroke="#000" stroke-width="0.5"/>
<line x1="512.1" y1="520.06" x2="508.9" y2="520.06" stroke="#000" stroke-width="0.5"/>
<line x1="512.1" y1="561" x2="505.7" y2="561" stroke="#000" stroke-width="0.5"/>
<line x1="105.04" y1="132.5" x2="105.04" y2="138.9" stroke="#000" stroke-width="0.55"/>
<line x1="115.21" y1="132.5" x2="115.21" y2="135.7" stroke="#000" stroke-width="0.55"/>
<line x1="125.39" y1="132.5" x2="125.39" y2="135.7" stroke="#000" stroke-width="0.55"/>
<line x1="135.56" y1="132.5" x2="135.56" y2="135.7" stroke="#000" stroke-width="0.55"/>
<line x1="145.73" y1="132.5" x2="145.73" y2="135.7" stroke="#000" stroke-width="0.55"/>
<line x1="155.91" y1="132.5" x2="155.91" y2="138.9" stroke="#000" stroke-width="0.55"/>
<line x1="166.08" y1="132.5" x2="166.08" y2="135.7" stroke="#000" stroke-width="0.55"/>
<line x1="176.25" y1="132.5" x2="176.25" y2="135.7" stroke="#000" stroke-width="0.55"/>
<line x1="186.42" y1="132.5" x2="186.42" y2="135.7" stroke="#000" stroke-width="0.55"/>
<line x1="196.6" y1="132.5" x2="196.6" y2="135.7" stroke="#000" stroke-width="0.55"/>
<line x1="206.77" y1="132.5" x2="206.77" y2="138.9" stroke="#000" stroke-width="0.55"/>
<line x1="216.94" y1="132.5" x2="216.94" y2="135.7" stroke="#000" stroke-width="0.55"/>
<line x1="227.12" y1="132.5" x2="227.12" y2="135.7" stroke="#000" stroke-width="0.55"/>
<line x1="237.29" y1="132.5" x2="237.29" y2="135.7" stroke="#000" stroke-width="0.55"/>
<line x1="247.46" y1="132.5" x2="247.46" y2="135.7" stroke="#000" stroke-width="0.55"/>
<line x1="257.63" y1="132.5" x2="257.63" y2="138.9" stroke="#000" stroke-width="0.55"/>
<line x1="267.81" y1="132.5" x2="267.81" y2="135.7" stroke="#000" stroke-width="0.55"/>
<line x1="277.98" y1="132.5" x2="277.98" y2="135.7" stroke="#000" stroke-width="0.55"/>
<line x1="288.15" y1="132.5" x2="288.15" y2="135.7" stroke="#000" stroke-width="0.55"/>
<line x1="298.33" y1="132.5" x2="298.33" y2="135.7" stroke="#000" stroke-width="0.55"/>
<line x1="308.5" y1="132.5" x2="308.5" y2="138.9" stroke="#000" stroke-width="0.55"/>
<line x1="105.04" y1="346.5" x2="105.04" y2="352.9" stroke="#000" stroke-width="0.55"/>
<line x1="105.04" y1="346.5" x2="105.04" y2="340.1" stroke="#000" stroke-width="0.55"/>
<line x1="115.21" y1="346.5" x2="115.21" y2="349.7" stroke="#000" stroke-width="0.55"/>
<line x1="115.21" y1="346.5" x2="115.21" y2="343.3" stroke="#000" stroke-width="0.55"/>
<line x1="125.39" y1="346.5" x2="125.39" y2="349.7" stroke="#000" stroke-width="0.55"/>
<line x1="125.39" y1="346.5" x2="125.39" y2="343.3" stroke="#000" stroke-width="0.55"/>
<line x1="135.56" y1="346.5" x2="135.56" y2="349.7" stroke="#000" stroke-width="0.55"/>
<line x1="135.56" y1="346.5" x2="135.56" y2="343.3" stroke="#000" stroke-width="0.55"/>
<line x1="145.73" y1="346.5" x2="145.73" y2="349.7" stroke="#000" stroke-width="0.55"/>
<line x1="145.73" y1="346.5" x2="145.73" y2="343.3" stroke="#000" stroke-width="0.55"/>
<line x1="155.91" y1="346.5" x2="155.91" y2="352.9" stroke="#000" stroke-width="0.55"/>
<line x1="155.91" y1="346.5" x2="155.91" y2="340.1" stroke="#000" stroke-width="0.55"/>
<line x1="166.08" y1="346.5" x2="166.08" y2="349.7" stroke="#000" stroke-width="0.55"/>
<line x1="166.08" y1="346.5" x2="166.08" y2="343.3" stroke="#000" stroke-width="0.55"/>
<line x1="176.25" y1="346.5" x2="176.25" y2="349.7" stroke="#000" stroke-width="0.55"/>
<line x1="176.25" y1="346.5" x2="176.25" y2="343.3" stroke="#000" stroke-width="0.55"/>
<line x1="186.42" y1="346.5" x2="186.42" y2="349.7" stroke="#000" stroke-width="0.55"/>
<line x1="186.42" y1="346.5" x2="186.42" y2="343.3" stroke="#000" stroke-width="0.55"/>
<line x1="196.6" y1="346.5" x2="196.6" y2="349.7" stroke="#000" stroke-width="0.55"/>
<line x1="196.6" y1="346.5" x2="196.6" y2="343.3" stroke="#000" stroke-width="0.55"/>
<line x1="206.77" y1="346.5" x2="206.77" y2="352.9" stroke="#000" stroke-width="0.55"/>
<line x1="206.77" y1="346.5" x2="206.77" y2="340.1" stroke="#000" stroke-width="0.55"/>
<line x1="216.94" y1="346.5" x2="216.94" y2="349.7" stroke="#000" stroke-width="0.55"/>
<line x1="216.94" y1="346.5" x2="216.94" y2="343.3" stroke="#000" stroke-width="0.55"/>
<line x1="227.12" y1="346.5" x2="227.12" y2="349.7" stroke="#000" stroke-width="0.55"/>
<line x1="227.12" y1="346.5" x2="227.12" y2="343.3" stroke="#000" stroke-width="0.55"/>
<line x1="237.29" y1="346.5" x2="237.29" y2="349.7" stroke="#000" stroke-width="0.55"/>
<line x1="237.29" y1="346.5" x2="237.29" y2="343.3" stroke="#000" stroke-width="0.55"/>
<line x1="247.46" y1="346.5" x2="247.46" y2="349.7" stroke="#000" stroke-width="0.55"/>
<line x1="247.46" y1="346.5" x2="247.46" y2="343.3" stroke="#000" stroke-width="0.55"/>
<line x1="257.63" y1="346.5" x2="257.63" y2="352.9" stroke="#000" stroke-width="0.55"/>
<line x1="257.63" y1="346.5" x2="257.63" y2="340.1" stroke="#000" stroke-width="0.55"/>
<line x1="267.81" y1="346.5" x2="267.81" y2="349.7" stroke="#000" stroke-width="0.55"/>
<line x1="267.81" y1="346.5" x2="267.81" y2="343.3" stroke="#000" stroke-width="0.55"/>
<line x1="277.98" y1="346.5" x2="277.98" y2="349.7" stroke="#000" stroke-width="0.55"/>
<line x1="277.98" y1="346.5" x2="277.98" y2="343.3" stroke="#000" stroke-width="0.55"/>
<line x1="288.15" y1="346.5" x2="288.15" y2="349.7" stroke="#000" stroke-width="0.55"/>
<line x1="288.15" y1="346.5" x2="288.15" y2="343.3" stroke="#000" stroke-width="0.55"/>
<line x1="298.33" y1="346.5" x2="298.33" y2="349.7" stroke="#000" stroke-width="0.55"/>
<line x1="298.33" y1="346.5" x2="298.33" y2="343.3" stroke="#000" stroke-width="0.55"/>
<line x1="308.5" y1="346.5" x2="308.5" y2="352.9" stroke="#000" stroke-width="0.55"/>
<line x1="308.5" y1="346.5" x2="308.5" y2="340.1" stroke="#000" stroke-width="0.55"/>
<line x1="105.04" y1="561" x2="105.04" y2="554.6" stroke="#000" stroke-width="0.55"/>
<line x1="115.21" y1="561" x2="115.21" y2="557.8" stroke="#000" stroke-width="0.55"/>
<line x1="125.39" y1="561" x2="125.39" y2="557.8" stroke="#000" stroke-width="0.55"/>
<line x1="135.56" y1="561" x2="135.56" y2="557.8" stroke="#000" stroke-width="0.55"/>
<line x1="145.73" y1="561" x2="145.73" y2="557.8" stroke="#000" stroke-width="0.55"/>
<line x1="155.91" y1="561" x2="155.91" y2="554.6" stroke="#000" stroke-width="0.55"/>
<line x1="166.08" y1="561" x2="166.08" y2="557.8" stroke="#000" stroke-width="0.55"/>
<line x1="176.25" y1="561" x2="176.25" y2="557.8" stroke="#000" stroke-width="0.55"/>
<line x1="186.42" y1="561" x2="186.42" y2="557.8" stroke="#000" stroke-width="0.55"/>
<line x1="196.6" y1="561" x2="196.6" y2="557.8" stroke="#000" stroke-width="0.55"/>
<line x1="206.77" y1="561" x2="206.77" y2="554.6" stroke="#000" stroke-width="0.55"/>
<line x1="216.94" y1="561" x2="216.94" y2="557.8" stroke="#000" stroke-width="0.55"/>
<line x1="227.12" y1="561" x2="227.12" y2="557.8" stroke="#000" stroke-width="0.55"/>
<line x1="237.29" y1="561" x2="237.29" y2="557.8" stroke="#000" stroke-width="0.55"/>
<line x1="247.46" y1="561" x2="247.46" y2="557.8" stroke="#000" stroke-width="0.55"/>
<line x1="257.63" y1="561" x2="257.63" y2="554.6" stroke="#000" stroke-width="0.55"/>
<line x1="267.81" y1="561" x2="267.81" y2="557.8" stroke="#000" stroke-width="0.55"/>
<line x1="277.98" y1="561" x2="277.98" y2="557.8" stroke="#000" stroke-width="0.55"/>
<line x1="288.15" y1="561" x2="288.15" y2="557.8" stroke="#000" stroke-width="0.55"/>
<line x1="298.33" y1="561" x2="298.33" y2="557.8" stroke="#000" stroke-width="0.55"/>
<line x1="308.5" y1="561" x2="308.5" y2="554.6" stroke="#000" stroke-width="0.55"/>
<line x1="308.5" y1="132.5" x2="308.5" y2="138.9" stroke="#000" stroke-width="0.55"/>
<line x1="322.07" y1="132.5" x2="322.07" y2="135.7" stroke="#000" stroke-width="0.55"/>
<line x1="335.65" y1="132.5" x2="335.65" y2="135.7" stroke="#000" stroke-width="0.55"/>
<line x1="349.22" y1="132.5" x2="349.22" y2="135.7" stroke="#000" stroke-width="0.55"/>
<line x1="362.79" y1="132.5" x2="362.79" y2="135.7" stroke="#000" stroke-width="0.55"/>
<line x1="376.37" y1="132.5" x2="376.37" y2="138.9" stroke="#000" stroke-width="0.55"/>
<line x1="389.94" y1="132.5" x2="389.94" y2="135.7" stroke="#000" stroke-width="0.55"/>
<line x1="403.51" y1="132.5" x2="403.51" y2="135.7" stroke="#000" stroke-width="0.55"/>
<line x1="417.09" y1="132.5" x2="417.09" y2="135.7" stroke="#000" stroke-width="0.55"/>
<line x1="430.66" y1="132.5" x2="430.66" y2="135.7" stroke="#000" stroke-width="0.55"/>
<line x1="444.23" y1="132.5" x2="444.23" y2="138.9" stroke="#000" stroke-width="0.55"/>
<line x1="457.81" y1="132.5" x2="457.81" y2="135.7" stroke="#000" stroke-width="0.55"/>
<line x1="471.38" y1="132.5" x2="471.38" y2="135.7" stroke="#000" stroke-width="0.55"/>
<line x1="484.95" y1="132.5" x2="484.95" y2="135.7" stroke="#000" stroke-width="0.55"/>
<line x1="498.53" y1="132.5" x2="498.53" y2="135.7" stroke="#000" stroke-width="0.55"/>
<line x1="512.1" y1="132.5" x2="512.1" y2="138.9" stroke="#000" stroke-width="0.55"/>
<line x1="308.5" y1="346.5" x2="308.5" y2="352.9" stroke="#000" stroke-width="0.55"/>
<line x1="308.5" y1="346.5" x2="308.5" y2="340.1" stroke="#000" stroke-width="0.55"/>
<line x1="322.07" y1="346.5" x2="322.07" y2="349.7" stroke="#000" stroke-width="0.55"/>
<line x1="322.07" y1="346.5" x2="322.07" y2="343.3" stroke="#000" stroke-width="0.55"/>
<line x1="335.65" y1="346.5" x2="335.65" y2="349.7" stroke="#000" stroke-width="0.55"/>
<line x1="335.65" y1="346.5" x2="335.65" y2="343.3" stroke="#000" stroke-width="0.55"/>
<line x1="349.22" y1="346.5" x2="349.22" y2="349.7" stroke="#000" stroke-width="0.55"/>
<line x1="349.22" y1="346.5" x2="349.22" y2="343.3" stroke="#000" stroke-width="0.55"/>
<line x1="362.79" y1="346.5" x2="362.79" y2="349.7" stroke="#000" stroke-width="0.55"/>
<line x1="362.79" y1="346.5" x2="362.79" y2="343.3" stroke="#000" stroke-width="0.55"/>
<line x1="376.37" y1="346.5" x2="376.37" y2="352.9" stroke="#000" stroke-width="0.55"/>
<line x1="376.37" y1="346.5" x2="376.37" y2="340.1" stroke="#000" stroke-width="0.55"/>
<line x1="389.94" y1="346.5" x2="389.94" y2="349.7" stroke="#000" stroke-width="0.55"/>
<line x1="389.94" y1="346.5" x2="389.94" y2="343.3" stroke="#000" stroke-width="0.55"/>
<line x1="403.51" y1="346.5" x2="403.51" y2="349.7" stroke="#000" stroke-width="0.55"/>
<line x1="403.51" y1="346.5" x2="403.51" y2="343.3" stroke="#000" stroke-width="0.55"/>
<line x1="417.09" y1="346.5" x2="417.09" y2="349.7" stroke="#000" stroke-width="0.55"/>
<line x1="417.09" y1="346.5" x2="417.09" y2="343.3" stroke="#000" stroke-width="0.55"/>
<line x1="430.66" y1="346.5" x2="430.66" y2="349.7" stroke="#000" stroke-width="0.55"/>
<line x1="430.66" y1="346.5" x2="430.66" y2="343.3" stroke="#000" stroke-width="0.55"/>
<line x1="444.23" y1="346.5" x2="444.23" y2="352.9" stroke="#000" stroke-width="0.55"/>
<line x1="444.23" y1="346.5" x2="444.23" y2="340.1" stroke="#000" stroke-width="0.55"/>
<line x1="457.81" y1="346.5" x2="457.81" y2="349.7" stroke="#000" stroke-width="0.55"/>
<line x1="457.81" y1="346.5" x2="457.81" y2="343.3" stroke="#000" stroke-width="0.55"/>
<line x1="471.38" y1="346.5" x2="471.38" y2="349.7" stroke="#000" stroke-width="0.55"/>
<line x1="471.38" y1="346.5" x2="471.38" y2="343.3" stroke="#000" stroke-width="0.55"/>
<line x1="484.95" y1="346.5" x2="484.95" y2="349.7" stroke="#000" stroke-width="0.55"/>
<line x1="484.95" y1="346.5" x2="484.95" y2="343.3" stroke="#000" stroke-width="0.55"/>
<line x1="498.53" y1="346.5" x2="498.53" y2="349.7" stroke="#000" stroke-width="0.55"/>
<line x1="498.53" y1="346.5" x2="498.53" y2="343.3" stroke="#000" stroke-width="0.55"/>
<line x1="512.1" y1="346.5" x2="512.1" y2="352.9" stroke="#000" stroke-width="0.55"/>
<line x1="512.1" y1="346.5" x2="512.1" y2="340.1" stroke="#000" stroke-width="0.55"/>
<line x1="308.5" y1="561" x2="308.5" y2="554.6" stroke="#000" stroke-width="0.55"/>
<line x1="322.07" y1="561" x2="322.07" y2="557.8" stroke="#000" stroke-width="0.55"/>
<line x1="335.65" y1="561" x2="335.65" y2="557.8" stroke="#000" stroke-width="0.55"/>
<line x1="349.22" y1="561" x2="349.22" y2="557.8" stroke="#000" stroke-width="0.55"/>
<line x1="362.79" y1="561" x2="362.79" y2="557.8" stroke="#000" stroke-width="0.55"/>
<line x1="376.37" y1="561" x2="376.37" y2="554.6" stroke="#000" stroke-width="0.55"/>
<line x1="389.94" y1="561" x2="389.94" y2="557.8" stroke="#000" stroke-width="0.55"/>
<line x1="403.51" y1="561" x2="403.51" y2="557.8" stroke="#000" stroke-width="0.55"/>
<line x1="417.09" y1="561" x2="417.09" y2="557.8" stroke="#000" stroke-width="0.55"/>
<line x1="430.66" y1="561" x2="430.66" y2="557.8" stroke="#000" stroke-width="0.55"/>
<line x1="444.23" y1="561" x2="444.23" y2="554.6" stroke="#000" stroke-width="0.55"/>
<line x1="457.81" y1="561" x2="457.81" y2="557.8" stroke="#000" stroke-width="0.55"/>
<line x1="471.38" y1="561" x2="471.38" y2="557.8" stroke="#000" stroke-width="0.55"/>
<line x1="484.95" y1="561" x2="484.95" y2="557.8" stroke="#000" stroke-width="0.55"/>
<line x1="498.53" y1="561" x2="498.53" y2="557.8" stroke="#000" stroke-width="0.55"/>
<line x1="512.1" y1="561" x2="512.1" y2="554.6" stroke="#000" stroke-width="0.55"/>
</g>
<g id="data">
<rect x="115.35" y="163.25" width="4.7" height="4.7" rx="0.7" fill="#0000ff"/>
<rect x="120.44" y="171.75" width="4.7" height="4.7" rx="0.7" fill="#0000ff"/>
<rect x="125.53" y="179.85" width="4.7" height="4.7" rx="0.7" fill="#0000ff"/>
<rect x="130.61" y="187.15" width="4.7" height="4.7" rx="0.7" fill="#0000ff"/>
<rect x="135.7" y="193.45" width="4.7" height="4.7" rx="0.7" fill="#0000ff"/>
<rect x="140.79" y="199.85" width="4.7" height="4.7" rx="0.7" fill="#0000ff"/>
<rect x="145.88" y="205.65" width="4.7" height="4.7" rx="0.7" fill="#0000ff"/>
<rect x="150.96" y="210.65" width="4.7" height="4.7" rx="0.7" fill="#0000ff"/>
<rect x="156.05" y="215.75" width="4.7" height="4.7" rx="0.7" fill="#0000ff"/>
<rect x="161.14" y="220.55" width="4.7" height="4.7" rx="0.7" fill="#0000ff"/>
<rect x="166.22" y="225.15" width="4.7" height="4.7" rx="0.7" fill="#0000ff"/>
<rect x="171.31" y="229.75" width="4.7" height="4.7" rx="0.7" fill="#0000ff"/>
<rect x="176.4" y="235.35" width="4.7" height="4.7" rx="0.7" fill="#0000ff"/>
<rect x="181.49" y="238.75" width="4.7" height="4.7" rx="0.7" fill="#0000ff"/>
<rect x="186.58" y="242.35" width="4.7" height="4.7" rx="0.7" fill="#0000ff"/>
<rect x="191.66" y="246.65" width="4.7" height="4.7" rx="0.7" fill="#0000ff"/>
<rect x="196.75" y="250.55" width="4.7" height="4.7" rx="0.7" fill="#0000ff"/>
<rect x="201.84" y="255.65" width="4.7" height="4.7" rx="0.7" fill="#0000ff"/>
<rect x="206.93" y="261.55" width="4.7" height="4.7" rx="0.7" fill="#0000ff"/>
<rect x="212.01" y="265.95" width="4.7" height="4.7" rx="0.7" fill="#0000ff"/>
<rect x="217.1" y="267.85" width="4.7" height="4.7" rx="0.7" fill="#0000ff"/>
<rect x="222.19" y="278.15" width="4.7" height="4.7" rx="0.7" fill="#0000ff"/>
<rect x="227.28" y="276.85" width="4.7" height="4.7" rx="0.7" fill="#0000ff"/>
<rect x="232.36" y="275.75" width="4.7" height="4.7" rx="0.7" fill="#0000ff"/>
<rect x="237.45" y="286.65" width="4.7" height="4.7" rx="0.7" fill="#0000ff"/>
<rect x="242.54" y="291.75" width="4.7" height="4.7" rx="0.7" fill="#0000ff"/>
<line x1="249.98" y1="296" x2="249.98" y2="301.4" stroke="#0000ff" stroke-width="1.2"/>
<rect x="247.63" y="296.35" width="4.7" height="4.7" rx="0.7" fill="#0000ff"/>
<line x1="255.06" y1="291.8" x2="255.06" y2="296.8" stroke="#0000ff" stroke-width="1.2"/>
<rect x="252.71" y="291.95" width="4.7" height="4.7" rx="0.7" fill="#0000ff"/>
<line x1="260.15" y1="295.7" x2="260.15" y2="301.7" stroke="#0000ff" stroke-width="1.2"/>
<rect x="257.8" y="296.35" width="4.7" height="4.7" rx="0.7" fill="#0000ff"/>
<line x1="265.24" y1="308" x2="265.24" y2="318.8" stroke="#0000ff" stroke-width="1.2"/>
<rect x="262.89" y="310.35" width="4.7" height="4.7" rx="0.7" fill="#0000ff"/>
<line x1="270.32" y1="319.1" x2="270.32" y2="333.7" stroke="#0000ff" stroke-width="1.2"/>
<rect x="267.97" y="322.85" width="4.7" height="4.7" rx="0.7" fill="#0000ff"/>
<line x1="275.41" y1="319.1" x2="275.41" y2="335.1" stroke="#0000ff" stroke-width="1.2"/>
<rect x="273.06" y="322.85" width="4.7" height="4.7" rx="0.7" fill="#0000ff"/>
<line x1="280.5" y1="316.1" x2="280.5" y2="330.7" stroke="#0000ff" stroke-width="1.2"/>
<rect x="278.15" y="319.15" width="4.7" height="4.7" rx="0.7" fill="#0000ff"/>
<line x1="285.59" y1="316.1" x2="285.59" y2="330.7" stroke="#0000ff" stroke-width="1.2"/>
<rect x="283.24" y="319.15" width="4.7" height="4.7" rx="0.7" fill="#0000ff"/>
<line x1="290.68" y1="327.6" x2="290.68" y2="346.5" stroke="#0000ff" stroke-width="1.2"/>
<rect x="288.32" y="333.45" width="4.7" height="4.7" rx="0.7" fill="#0000ff"/>
<line x1="300.85" y1="322.6" x2="300.85" y2="343.2" stroke="#0000ff" stroke-width="1.2"/>
<rect x="298.5" y="326.95" width="4.7" height="4.7" rx="0.7" fill="#0000ff"/>
<line x1="305.94" y1="313.7" x2="305.94" y2="327" stroke="#0000ff" stroke-width="1.2"/>
<rect x="303.59" y="316.45" width="4.7" height="4.7" rx="0.7" fill="#0000ff"/>
<rect x="115.6" y="164.2" width="4.2" height="4.2" fill="none" stroke="#ff0000" stroke-width="1.25"/>
<rect x="120.69" y="175.9" width="4.2" height="4.2" fill="none" stroke="#ff0000" stroke-width="1.25"/>
<rect x="125.78" y="185.7" width="4.2" height="4.2" fill="none" stroke="#ff0000" stroke-width="1.25"/>
<rect x="130.86" y="194.5" width="4.2" height="4.2" fill="none" stroke="#ff0000" stroke-width="1.25"/>
<rect x="135.95" y="202.6" width="4.2" height="4.2" fill="none" stroke="#ff0000" stroke-width="1.25"/>
<rect x="141.04" y="210.4" width="4.2" height="4.2" fill="none" stroke="#ff0000" stroke-width="1.25"/>
<rect x="146.12" y="217.7" width="4.2" height="4.2" fill="none" stroke="#ff0000" stroke-width="1.25"/>
<rect x="151.21" y="225.5" width="4.2" height="4.2" fill="none" stroke="#ff0000" stroke-width="1.25"/>
<rect x="156.3" y="233.5" width="4.2" height="4.2" fill="none" stroke="#ff0000" stroke-width="1.25"/>
<rect x="161.39" y="239.4" width="4.2" height="4.2" fill="none" stroke="#ff0000" stroke-width="1.25"/>
<rect x="166.47" y="245.3" width="4.2" height="4.2" fill="none" stroke="#ff0000" stroke-width="1.25"/>
<rect x="171.56" y="250.3" width="4.2" height="4.2" fill="none" stroke="#ff0000" stroke-width="1.25"/>
<rect x="176.65" y="255.5" width="4.2" height="4.2" fill="none" stroke="#ff0000" stroke-width="1.25"/>
<rect x="181.74" y="261" width="4.2" height="4.2" fill="none" stroke="#ff0000" stroke-width="1.25"/>
<rect x="186.83" y="265.5" width="4.2" height="4.2" fill="none" stroke="#ff0000" stroke-width="1.25"/>
<rect x="191.91" y="269.9" width="4.2" height="4.2" fill="none" stroke="#ff0000" stroke-width="1.25"/>
<rect x="197" y="274.3" width="4.2" height="4.2" fill="none" stroke="#ff0000" stroke-width="1.25"/>
<rect x="202.09" y="278.4" width="4.2" height="4.2" fill="none" stroke="#ff0000" stroke-width="1.25"/>
<rect x="207.18" y="282.6" width="4.2" height="4.2" fill="none" stroke="#ff0000" stroke-width="1.25"/>
<rect x="212.26" y="285.5" width="4.2" height="4.2" fill="none" stroke="#ff0000" stroke-width="1.25"/>
<rect x="217.35" y="292" width="4.2" height="4.2" fill="none" stroke="#ff0000" stroke-width="1.25"/>
<rect x="222.44" y="294.8" width="4.2" height="4.2" fill="none" stroke="#ff0000" stroke-width="1.25"/>
<rect x="227.53" y="300.4" width="4.2" height="4.2" fill="none" stroke="#ff0000" stroke-width="1.25"/>
<rect x="232.61" y="304.9" width="4.2" height="4.2" fill="none" stroke="#ff0000" stroke-width="1.25"/>
<rect x="237.7" y="308.9" width="4.2" height="4.2" fill="none" stroke="#ff0000" stroke-width="1.25"/>
<rect x="242.79" y="312.6" width="4.2" height="4.2" fill="none" stroke="#ff0000" stroke-width="1.25"/>
<rect x="247.88" y="312.6" width="4.2" height="4.2" fill="none" stroke="#ff0000" stroke-width="1.25"/>
<rect x="252.96" y="322.4" width="4.2" height="4.2" fill="none" stroke="#ff0000" stroke-width="1.25"/>
<rect x="258.05" y="327.4" width="4.2" height="4.2" fill="none" stroke="#ff0000" stroke-width="1.25"/>
<rect x="263.14" y="330.9" width="4.2" height="4.2" fill="none" stroke="#ff0000" stroke-width="1.25"/>
<rect x="268.22" y="335" width="4.2" height="4.2" fill="none" stroke="#ff0000" stroke-width="1.25"/>
<line x1="275.41" y1="336.5" x2="275.41" y2="342" stroke="#ff0000" stroke-width="1.2"/>
<rect x="273.31" y="336.6" width="4.2" height="4.2" fill="none" stroke="#ff0000" stroke-width="1.25"/>
<rect x="115.35" y="386.15" width="4.7" height="4.7" rx="0.7" fill="#0000ff"/>
<rect x="120.44" y="392.75" width="4.7" height="4.7" rx="0.7" fill="#0000ff"/>
<rect x="125.53" y="399.65" width="4.7" height="4.7" rx="0.7" fill="#0000ff"/>
<rect x="130.61" y="406.45" width="4.7" height="4.7" rx="0.7" fill="#0000ff"/>
<rect x="135.7" y="411.85" width="4.7" height="4.7" rx="0.7" fill="#0000ff"/>
<rect x="140.79" y="417.45" width="4.7" height="4.7" rx="0.7" fill="#0000ff"/>
<rect x="145.88" y="423.25" width="4.7" height="4.7" rx="0.7" fill="#0000ff"/>
<rect x="150.96" y="427.95" width="4.7" height="4.7" rx="0.7" fill="#0000ff"/>
<rect x="156.05" y="432.25" width="4.7" height="4.7" rx="0.7" fill="#0000ff"/>
<rect x="161.14" y="439.05" width="4.7" height="4.7" rx="0.7" fill="#0000ff"/>
<rect x="166.22" y="441.95" width="4.7" height="4.7" rx="0.7" fill="#0000ff"/>
<rect x="171.31" y="450.45" width="4.7" height="4.7" rx="0.7" fill="#0000ff"/>
<rect x="176.4" y="455.55" width="4.7" height="4.7" rx="0.7" fill="#0000ff"/>
<rect x="181.49" y="463.55" width="4.7" height="4.7" rx="0.7" fill="#0000ff"/>
<rect x="186.58" y="464.75" width="4.7" height="4.7" rx="0.7" fill="#0000ff"/>
<rect x="191.66" y="469.55" width="4.7" height="4.7" rx="0.7" fill="#0000ff"/>
<rect x="196.75" y="478.65" width="4.7" height="4.7" rx="0.7" fill="#0000ff"/>
<line x1="204.19" y1="488" x2="204.19" y2="492" stroke="#0000ff" stroke-width="1.2"/>
<rect x="201.84" y="487.65" width="4.7" height="4.7" rx="0.7" fill="#0000ff"/>
<line x1="209.28" y1="491.6" x2="209.28" y2="497.6" stroke="#0000ff" stroke-width="1.2"/>
<rect x="206.93" y="492.25" width="4.7" height="4.7" rx="0.7" fill="#0000ff"/>
<line x1="214.36" y1="500.7" x2="214.36" y2="508.9" stroke="#0000ff" stroke-width="1.2"/>
<rect x="212.01" y="502.35" width="4.7" height="4.7" rx="0.7" fill="#0000ff"/>
<line x1="219.45" y1="501.3" x2="219.45" y2="509.6" stroke="#0000ff" stroke-width="1.2"/>
<rect x="217.1" y="502.95" width="4.7" height="4.7" rx="0.7" fill="#0000ff"/>
<line x1="224.54" y1="513.7" x2="224.54" y2="527.3" stroke="#0000ff" stroke-width="1.2"/>
<rect x="222.19" y="517.65" width="4.7" height="4.7" rx="0.7" fill="#0000ff"/>
<line x1="229.62" y1="514.4" x2="229.62" y2="527.4" stroke="#0000ff" stroke-width="1.2"/>
<rect x="227.28" y="517.65" width="4.7" height="4.7" rx="0.7" fill="#0000ff"/>
<line x1="234.71" y1="512.9" x2="234.71" y2="525.2" stroke="#0000ff" stroke-width="1.2"/>
<rect x="232.36" y="515.55" width="4.7" height="4.7" rx="0.7" fill="#0000ff"/>
<line x1="239.8" y1="527.4" x2="239.8" y2="548" stroke="#0000ff" stroke-width="1.2"/>
<rect x="237.45" y="532.65" width="4.7" height="4.7" rx="0.7" fill="#0000ff"/>
<line x1="244.89" y1="527.4" x2="244.89" y2="548" stroke="#0000ff" stroke-width="1.2"/>
<rect x="242.54" y="532.65" width="4.7" height="4.7" rx="0.7" fill="#0000ff"/>
<line x1="255.06" y1="538" x2="255.06" y2="561" stroke="#0000ff" stroke-width="1.2"/>
<rect x="252.71" y="545.65" width="4.7" height="4.7" rx="0.7" fill="#0000ff"/>
<line x1="265.24" y1="548" x2="265.24" y2="561" stroke="#0000ff" stroke-width="1.2"/>
<line x1="262.94" y1="560.7" x2="267.54" y2="560.7" stroke="#0000ff" stroke-width="0.9"/>
<line x1="290.68" y1="548" x2="290.68" y2="561" stroke="#0000ff" stroke-width="1.2"/>
<line x1="288.38" y1="560.7" x2="292.98" y2="560.7" stroke="#0000ff" stroke-width="0.9"/>
<rect x="115.6" y="373.7" width="4.2" height="4.2" fill="none" stroke="#ff0000" stroke-width="1.25"/>
<rect x="120.69" y="385" width="4.2" height="4.2" fill="none" stroke="#ff0000" stroke-width="1.25"/>
<rect x="125.78" y="395.2" width="4.2" height="4.2" fill="none" stroke="#ff0000" stroke-width="1.25"/>
<rect x="130.86" y="403.2" width="4.2" height="4.2" fill="none" stroke="#ff0000" stroke-width="1.25"/>
<rect x="135.95" y="410.4" width="4.2" height="4.2" fill="none" stroke="#ff0000" stroke-width="1.25"/>
<rect x="141.04" y="417.2" width="4.2" height="4.2" fill="none" stroke="#ff0000" stroke-width="1.25"/>
<rect x="146.12" y="423.5" width="4.2" height="4.2" fill="none" stroke="#ff0000" stroke-width="1.25"/>
<rect x="151.21" y="429.4" width="4.2" height="4.2" fill="none" stroke="#ff0000" stroke-width="1.25"/>
<rect x="156.3" y="437.1" width="4.2" height="4.2" fill="none" stroke="#ff0000" stroke-width="1.25"/>
<rect x="161.39" y="440.9" width="4.2" height="4.2" fill="none" stroke="#ff0000" stroke-width="1.25"/>
<rect x="166.47" y="446.2" width="4.2" height="4.2" fill="none" stroke="#ff0000" stroke-width="1.25"/>
<rect x="171.56" y="450.7" width="4.2" height="4.2" fill="none" stroke="#ff0000" stroke-width="1.25"/>
<rect x="176.65" y="455.4" width="4.2" height="4.2" fill="none" stroke="#ff0000" stroke-width="1.25"/>
<rect x="181.74" y="460.4" width="4.2" height="4.2" fill="none" stroke="#ff0000" stroke-width="1.25"/>
<rect x="186.83" y="465.4" width="4.2" height="4.2" fill="none" stroke="#ff0000" stroke-width="1.25"/>
<rect x="191.91" y="470.1" width="4.2" height="4.2" fill="none" stroke="#ff0000" stroke-width="1.25"/>
<rect x="197" y="474.9" width="4.2" height="4.2" fill="none" stroke="#ff0000" stroke-width="1.25"/>
<rect x="202.09" y="479.8" width="4.2" height="4.2" fill="none" stroke="#ff0000" stroke-width="1.25"/>
<rect x="207.18" y="484.5" width="4.2" height="4.2" fill="none" stroke="#ff0000" stroke-width="1.25"/>
<rect x="212.26" y="487.9" width="4.2" height="4.2" fill="none" stroke="#ff0000" stroke-width="1.25"/>
<rect x="217.35" y="495.2" width="4.2" height="4.2" fill="none" stroke="#ff0000" stroke-width="1.25"/>
<rect x="222.44" y="498.9" width="4.2" height="4.2" fill="none" stroke="#ff0000" stroke-width="1.25"/>
<rect x="227.53" y="505.8" width="4.2" height="4.2" fill="none" stroke="#ff0000" stroke-width="1.25"/>
<rect x="232.61" y="511.2" width="4.2" height="4.2" fill="none" stroke="#ff0000" stroke-width="1.25"/>
<rect x="237.7" y="516" width="4.2" height="4.2" fill="none" stroke="#ff0000" stroke-width="1.25"/>
<rect x="242.79" y="520.9" width="4.2" height="4.2" fill="none" stroke="#ff0000" stroke-width="1.25"/>
<rect x="247.88" y="521" width="4.2" height="4.2" fill="none" stroke="#ff0000" stroke-width="1.25"/>
<rect x="252.96" y="532.1" width="4.2" height="4.2" fill="none" stroke="#ff0000" stroke-width="1.25"/>
<rect x="258.05" y="538.3" width="4.2" height="4.2" fill="none" stroke="#ff0000" stroke-width="1.25"/>
<rect x="263.14" y="542.4" width="4.2" height="4.2" fill="none" stroke="#ff0000" stroke-width="1.25"/>
<line x1="270.32" y1="547" x2="270.32" y2="552.5" stroke="#ff0000" stroke-width="1.2"/>
<rect x="268.22" y="547.4" width="4.2" height="4.2" fill="none" stroke="#ff0000" stroke-width="1.25"/>
<line x1="275.41" y1="548.7" x2="275.41" y2="556.4" stroke="#ff0000" stroke-width="1.2"/>
<rect x="273.31" y="549.4" width="4.2" height="4.2" fill="none" stroke="#ff0000" stroke-width="1.25"/>
<rect x="341.65" y="170.95" width="4.7" height="4.7" rx="0.7" fill="#0000ff"/>
<rect x="345.04" y="175.85" width="4.7" height="4.7" rx="0.7" fill="#0000ff"/>
<rect x="348.44" y="180.45" width="4.7" height="4.7" rx="0.7" fill="#0000ff"/>
<rect x="351.83" y="184.55" width="4.7" height="4.7" rx="0.7" fill="#0000ff"/>
<rect x="355.23" y="188.25" width="4.7" height="4.7" rx="0.7" fill="#0000ff"/>
<rect x="358.62" y="192.15" width="4.7" height="4.7" rx="0.7" fill="#0000ff"/>
<rect x="362.01" y="195.45" width="4.7" height="4.7" rx="0.7" fill="#0000ff"/>
<rect x="365.41" y="198.45" width="4.7" height="4.7" rx="0.7" fill="#0000ff"/>
<rect x="368.8" y="201.65" width="4.7" height="4.7" rx="0.7" fill="#0000ff"/>
<rect x="372.2" y="204.55" width="4.7" height="4.7" rx="0.7" fill="#0000ff"/>
<rect x="375.59" y="208.15" width="4.7" height="4.7" rx="0.7" fill="#0000ff"/>
<rect x="378.98" y="211.35" width="4.7" height="4.7" rx="0.7" fill="#0000ff"/>
<rect x="382.38" y="214.65" width="4.7" height="4.7" rx="0.7" fill="#0000ff"/>
<rect x="385.77" y="218.05" width="4.7" height="4.7" rx="0.7" fill="#0000ff"/>
<rect x="389.17" y="221.25" width="4.7" height="4.7" rx="0.7" fill="#0000ff"/>
<rect x="392.56" y="224.05" width="4.7" height="4.7" rx="0.7" fill="#0000ff"/>
<rect x="395.95" y="225.75" width="4.7" height="4.7" rx="0.7" fill="#0000ff"/>
<rect x="399.35" y="227.95" width="4.7" height="4.7" rx="0.7" fill="#0000ff"/>
<rect x="402.74" y="230.85" width="4.7" height="4.7" rx="0.7" fill="#0000ff"/>
<rect x="406.14" y="233.15" width="4.7" height="4.7" rx="0.7" fill="#0000ff"/>
<rect x="409.53" y="237.05" width="4.7" height="4.7" rx="0.7" fill="#0000ff"/>
<rect x="412.92" y="240.05" width="4.7" height="4.7" rx="0.7" fill="#0000ff"/>
<rect x="416.32" y="243.35" width="4.7" height="4.7" rx="0.7" fill="#0000ff"/>
<rect x="419.71" y="246.45" width="4.7" height="4.7" rx="0.7" fill="#0000ff"/>
<rect x="423.11" y="249.85" width="4.7" height="4.7" rx="0.7" fill="#0000ff"/>
<rect x="426.5" y="253.85" width="4.7" height="4.7" rx="0.7" fill="#0000ff"/>
<rect x="429.89" y="255.45" width="4.7" height="4.7" rx="0.7" fill="#0000ff"/>
<rect x="433.29" y="257.35" width="4.7" height="4.7" rx="0.7" fill="#0000ff"/>
<rect x="436.68" y="263.45" width="4.7" height="4.7" rx="0.7" fill="#0000ff"/>
<rect x="440.08" y="265.65" width="4.7" height="4.7" rx="0.7" fill="#0000ff"/>
<rect x="443.47" y="261.85" width="4.7" height="4.7" rx="0.7" fill="#0000ff"/>
<rect x="446.86" y="271.75" width="4.7" height="4.7" rx="0.7" fill="#0000ff"/>
<rect x="450.26" y="275.15" width="4.7" height="4.7" rx="0.7" fill="#0000ff"/>
<rect x="453.65" y="279.35" width="4.7" height="4.7" rx="0.7" fill="#0000ff"/>
<rect x="457.05" y="278.55" width="4.7" height="4.7" rx="0.7" fill="#0000ff"/>
<rect x="460.44" y="281.85" width="4.7" height="4.7" rx="0.7" fill="#0000ff"/>
<rect x="463.83" y="281.55" width="4.7" height="4.7" rx="0.7" fill="#0000ff"/>
<rect x="467.23" y="288.55" width="4.7" height="4.7" rx="0.7" fill="#0000ff"/>
<rect x="470.62" y="286.25" width="4.7" height="4.7" rx="0.7" fill="#0000ff"/>
<line x1="476.37" y1="293.8" x2="476.37" y2="299.4" stroke="#0000ff" stroke-width="1.2"/>
<rect x="474.02" y="294.25" width="4.7" height="4.7" rx="0.7" fill="#0000ff"/>
<line x1="479.76" y1="295" x2="479.76" y2="301" stroke="#0000ff" stroke-width="1.2"/>
<rect x="477.41" y="295.65" width="4.7" height="4.7" rx="0.7" fill="#0000ff"/>
<line x1="483.15" y1="301.2" x2="483.15" y2="308.2" stroke="#0000ff" stroke-width="1.2"/>
<rect x="480.8" y="302.35" width="4.7" height="4.7" rx="0.7" fill="#0000ff"/>
<line x1="486.55" y1="303.5" x2="486.55" y2="314.5" stroke="#0000ff" stroke-width="1.2"/>
<rect x="484.2" y="306.95" width="4.7" height="4.7" rx="0.7" fill="#0000ff"/>
<line x1="489.94" y1="311.4" x2="489.94" y2="323.8" stroke="#0000ff" stroke-width="1.2"/>
<rect x="487.59" y="314.05" width="4.7" height="4.7" rx="0.7" fill="#0000ff"/>
<line x1="493.34" y1="303.9" x2="493.34" y2="312.9" stroke="#0000ff" stroke-width="1.2"/>
<rect x="490.99" y="305.75" width="4.7" height="4.7" rx="0.7" fill="#0000ff"/>
<line x1="496.73" y1="308" x2="496.73" y2="318.6" stroke="#0000ff" stroke-width="1.2"/>
<rect x="494.38" y="310.15" width="4.7" height="4.7" rx="0.7" fill="#0000ff"/>
<line x1="500.12" y1="311.4" x2="500.12" y2="323.7" stroke="#0000ff" stroke-width="1.2"/>
<rect x="497.77" y="313.85" width="4.7" height="4.7" rx="0.7" fill="#0000ff"/>
<line x1="503.52" y1="314" x2="503.52" y2="326.8" stroke="#0000ff" stroke-width="1.2"/>
<rect x="501.17" y="316.25" width="4.7" height="4.7" rx="0.7" fill="#0000ff"/>
<line x1="506.91" y1="310" x2="506.91" y2="320" stroke="#0000ff" stroke-width="1.2"/>
<rect x="504.56" y="311.95" width="4.7" height="4.7" rx="0.7" fill="#0000ff"/>
<line x1="510.31" y1="323" x2="510.31" y2="342.8" stroke="#0000ff" stroke-width="1.2"/>
<line x1="508.41" y1="329.5" x2="512.1" y2="329.5" stroke="#0000ff" stroke-width="0.8"/>
<rect x="341.9" y="181" width="4.2" height="4.2" fill="none" stroke="#ff0000" stroke-width="1.25"/>
<rect x="345.29" y="184.3" width="4.2" height="4.2" fill="none" stroke="#ff0000" stroke-width="1.25"/>
<rect x="348.69" y="187.3" width="4.2" height="4.2" fill="none" stroke="#ff0000" stroke-width="1.25"/>
<rect x="352.08" y="190.4" width="4.2" height="4.2" fill="none" stroke="#ff0000" stroke-width="1.25"/>
<rect x="355.48" y="193.2" width="4.2" height="4.2" fill="none" stroke="#ff0000" stroke-width="1.25"/>
<rect x="358.87" y="196.3" width="4.2" height="4.2" fill="none" stroke="#ff0000" stroke-width="1.25"/>
<rect x="362.26" y="199.2" width="4.2" height="4.2" fill="none" stroke="#ff0000" stroke-width="1.25"/>
<rect x="365.66" y="201.9" width="4.2" height="4.2" fill="none" stroke="#ff0000" stroke-width="1.25"/>
<rect x="369.05" y="204.4" width="4.2" height="4.2" fill="none" stroke="#ff0000" stroke-width="1.25"/>
<rect x="372.45" y="206.8" width="4.2" height="4.2" fill="none" stroke="#ff0000" stroke-width="1.25"/>
<rect x="375.84" y="209.3" width="4.2" height="4.2" fill="none" stroke="#ff0000" stroke-width="1.25"/>
<rect x="379.23" y="211.6" width="4.2" height="4.2" fill="none" stroke="#ff0000" stroke-width="1.25"/>
<rect x="382.63" y="213.9" width="4.2" height="4.2" fill="none" stroke="#ff0000" stroke-width="1.25"/>
<rect x="386.02" y="216" width="4.2" height="4.2" fill="none" stroke="#ff0000" stroke-width="1.25"/>
<rect x="389.42" y="218" width="4.2" height="4.2" fill="none" stroke="#ff0000" stroke-width="1.25"/>
<rect x="392.81" y="219.8" width="4.2" height="4.2" fill="none" stroke="#ff0000" stroke-width="1.25"/>
<rect x="396.2" y="221.7" width="4.2" height="4.2" fill="none" stroke="#ff0000" stroke-width="1.25"/>
<rect x="399.6" y="223.6" width="4.2" height="4.2" fill="none" stroke="#ff0000" stroke-width="1.25"/>
<rect x="402.99" y="225.6" width="4.2" height="4.2" fill="none" stroke="#ff0000" stroke-width="1.25"/>
<rect x="406.39" y="227.3" width="4.2" height="4.2" fill="none" stroke="#ff0000" stroke-width="1.25"/>
<rect x="409.78" y="229" width="4.2" height="4.2" fill="none" stroke="#ff0000" stroke-width="1.25"/>
<rect x="413.17" y="230.7" width="4.2" height="4.2" fill="none" stroke="#ff0000" stroke-width="1.25"/>
<rect x="416.57" y="232.5" width="4.2" height="4.2" fill="none" stroke="#ff0000" stroke-width="1.25"/>
<rect x="419.96" y="234.1" width="4.2" height="4.2" fill="none" stroke="#ff0000" stroke-width="1.25"/>
<rect x="423.36" y="235.6" width="4.2" height="4.2" fill="none" stroke="#ff0000" stroke-width="1.25"/>
<rect x="426.75" y="237.2" width="4.2" height="4.2" fill="none" stroke="#ff0000" stroke-width="1.25"/>
<rect x="430.14" y="238.7" width="4.2" height="4.2" fill="none" stroke="#ff0000" stroke-width="1.25"/>
<rect x="433.54" y="240.1" width="4.2" height="4.2" fill="none" stroke="#ff0000" stroke-width="1.25"/>
<rect x="436.93" y="241.5" width="4.2" height="4.2" fill="none" stroke="#ff0000" stroke-width="1.25"/>
<rect x="440.33" y="242.8" width="4.2" height="4.2" fill="none" stroke="#ff0000" stroke-width="1.25"/>
<rect x="443.72" y="244.1" width="4.2" height="4.2" fill="none" stroke="#ff0000" stroke-width="1.25"/>
<rect x="447.11" y="245.62" width="4.2" height="4.2" fill="none" stroke="#ff0000" stroke-width="1.25"/>
<rect x="450.51" y="247.15" width="4.2" height="4.2" fill="none" stroke="#ff0000" stroke-width="1.25"/>
<rect x="453.9" y="248.68" width="4.2" height="4.2" fill="none" stroke="#ff0000" stroke-width="1.25"/>
<rect x="457.3" y="250.2" width="4.2" height="4.2" fill="none" stroke="#ff0000" stroke-width="1.25"/>
<rect x="460.69" y="251.75" width="4.2" height="4.2" fill="none" stroke="#ff0000" stroke-width="1.25"/>
<rect x="464.08" y="253.3" width="4.2" height="4.2" fill="none" stroke="#ff0000" stroke-width="1.25"/>
<rect x="467.48" y="254.85" width="4.2" height="4.2" fill="none" stroke="#ff0000" stroke-width="1.25"/>
<rect x="470.87" y="256.4" width="4.2" height="4.2" fill="none" stroke="#ff0000" stroke-width="1.25"/>
<rect x="474.27" y="257.82" width="4.2" height="4.2" fill="none" stroke="#ff0000" stroke-width="1.25"/>
<rect x="477.66" y="259.25" width="4.2" height="4.2" fill="none" stroke="#ff0000" stroke-width="1.25"/>
<rect x="481.05" y="260.67" width="4.2" height="4.2" fill="none" stroke="#ff0000" stroke-width="1.25"/>
<rect x="484.45" y="262.1" width="4.2" height="4.2" fill="none" stroke="#ff0000" stroke-width="1.25"/>
<rect x="487.84" y="263.45" width="4.2" height="4.2" fill="none" stroke="#ff0000" stroke-width="1.25"/>
<rect x="491.24" y="264.8" width="4.2" height="4.2" fill="none" stroke="#ff0000" stroke-width="1.25"/>
<rect x="494.63" y="266.15" width="4.2" height="4.2" fill="none" stroke="#ff0000" stroke-width="1.25"/>
<rect x="498.02" y="267.5" width="4.2" height="4.2" fill="none" stroke="#ff0000" stroke-width="1.25"/>
<rect x="501.42" y="268.6" width="4.2" height="4.2" fill="none" stroke="#ff0000" stroke-width="1.25"/>
<rect x="504.81" y="269.7" width="4.2" height="4.2" fill="none" stroke="#ff0000" stroke-width="1.25"/>
<line x1="507.91" y1="274.4" x2="512.1" y2="274.4" stroke="#ff0000" stroke-width="1.0"/>
<rect x="375.59" y="396.35" width="4.7" height="4.7" rx="0.7" fill="#0000ff"/>
<rect x="378.98" y="398.92" width="4.7" height="4.7" rx="0.7" fill="#0000ff"/>
<rect x="382.38" y="402.89" width="4.7" height="4.7" rx="0.7" fill="#0000ff"/>
<rect x="385.77" y="406.98" width="4.7" height="4.7" rx="0.7" fill="#0000ff"/>
<rect x="389.17" y="410.83" width="4.7" height="4.7" rx="0.7" fill="#0000ff"/>
<rect x="392.56" y="414.19" width="4.7" height="4.7" rx="0.7" fill="#0000ff"/>
<rect x="395.95" y="416.24" width="4.7" height="4.7" rx="0.7" fill="#0000ff"/>
<rect x="399.35" y="418.88" width="4.7" height="4.7" rx="0.7" fill="#0000ff"/>
<rect x="402.74" y="422.37" width="4.7" height="4.7" rx="0.7" fill="#0000ff"/>
<rect x="406.14" y="425.14" width="4.7" height="4.7" rx="0.7" fill="#0000ff"/>
<rect x="409.53" y="429.83" width="4.7" height="4.7" rx="0.7" fill="#0000ff"/>
<rect x="412.92" y="433.44" width="4.7" height="4.7" rx="0.7" fill="#0000ff"/>
<rect x="416.32" y="437.41" width="4.7" height="4.7" rx="0.7" fill="#0000ff"/>
<rect x="419.71" y="441.14" width="4.7" height="4.7" rx="0.7" fill="#0000ff"/>
<rect x="423.11" y="445.23" width="4.7" height="4.7" rx="0.7" fill="#0000ff"/>
<rect x="426.5" y="450.04" width="4.7" height="4.7" rx="0.7" fill="#0000ff"/>
<rect x="429.89" y="451.96" width="4.7" height="4.7" rx="0.7" fill="#0000ff"/>
<rect x="433.29" y="454.25" width="4.7" height="4.7" rx="0.7" fill="#0000ff"/>
<rect x="436.68" y="461.58" width="4.7" height="4.7" rx="0.7" fill="#0000ff"/>
<rect x="440.08" y="464.23" width="4.7" height="4.7" rx="0.7" fill="#0000ff"/>
<rect x="443.47" y="459.66" width="4.7" height="4.7" rx="0.7" fill="#0000ff"/>
<rect x="446.86" y="471.57" width="4.7" height="4.7" rx="0.7" fill="#0000ff"/>
<rect x="450.26" y="475.66" width="4.7" height="4.7" rx="0.7" fill="#0000ff"/>
<rect x="453.65" y="480.71" width="4.7" height="4.7" rx="0.7" fill="#0000ff"/>
<rect x="457.05" y="479.75" width="4.7" height="4.7" rx="0.7" fill="#0000ff"/>
<rect x="460.44" y="483.72" width="4.7" height="4.7" rx="0.7" fill="#0000ff"/>
<rect x="463.83" y="483.35" width="4.7" height="4.7" rx="0.7" fill="#0000ff"/>
<rect x="467.23" y="491.77" width="4.7" height="4.7" rx="0.7" fill="#0000ff"/>
<rect x="470.62" y="489.01" width="4.7" height="4.7" rx="0.7" fill="#0000ff"/>
<line x1="476.37" y1="497.61" x2="476.37" y2="504.35" stroke="#0000ff" stroke-width="1.2"/>
<rect x="474.02" y="498.63" width="4.7" height="4.7" rx="0.7" fill="#0000ff"/>
<line x1="479.76" y1="499.06" x2="479.76" y2="506.27" stroke="#0000ff" stroke-width="1.2"/>
<rect x="477.41" y="500.31" width="4.7" height="4.7" rx="0.7" fill="#0000ff"/>
<line x1="483.15" y1="506.51" x2="483.15" y2="514.93" stroke="#0000ff" stroke-width="1.2"/>
<rect x="480.8" y="508.37" width="4.7" height="4.7" rx="0.7" fill="#0000ff"/>
<line x1="486.55" y1="509.28" x2="486.55" y2="522.51" stroke="#0000ff" stroke-width="1.2"/>
<rect x="484.2" y="513.91" width="4.7" height="4.7" rx="0.7" fill="#0000ff"/>
<line x1="489.94" y1="518.78" x2="489.94" y2="533.7" stroke="#0000ff" stroke-width="1.2"/>
<rect x="487.59" y="522.45" width="4.7" height="4.7" rx="0.7" fill="#0000ff"/>
<line x1="493.34" y1="509.76" x2="493.34" y2="520.59" stroke="#0000ff" stroke-width="1.2"/>
<rect x="490.99" y="512.46" width="4.7" height="4.7" rx="0.7" fill="#0000ff"/>
<line x1="496.73" y1="514.69" x2="496.73" y2="527.44" stroke="#0000ff" stroke-width="1.2"/>
<rect x="494.38" y="517.75" width="4.7" height="4.7" rx="0.7" fill="#0000ff"/>
<line x1="500.12" y1="518.78" x2="500.12" y2="533.58" stroke="#0000ff" stroke-width="1.2"/>
<rect x="497.77" y="522.21" width="4.7" height="4.7" rx="0.7" fill="#0000ff"/>
<line x1="503.52" y1="521.91" x2="503.52" y2="537.3" stroke="#0000ff" stroke-width="1.2"/>
<rect x="501.17" y="525.09" width="4.7" height="4.7" rx="0.7" fill="#0000ff"/>
<line x1="506.91" y1="517.1" x2="506.91" y2="529.13" stroke="#0000ff" stroke-width="1.2"/>
<rect x="504.56" y="519.92" width="4.7" height="4.7" rx="0.7" fill="#0000ff"/>
<line x1="510.31" y1="532.73" x2="510.31" y2="556.55" stroke="#0000ff" stroke-width="1.2"/>
<line x1="508.41" y1="540.55" x2="512.1" y2="540.55" stroke="#0000ff" stroke-width="0.8"/>
<rect x="375.84" y="396.4" width="4.2" height="4.2" fill="none" stroke="#ff0000" stroke-width="1.25"/>
<rect x="379.23" y="399.17" width="4.2" height="4.2" fill="none" stroke="#ff0000" stroke-width="1.25"/>
<rect x="382.63" y="401.93" width="4.2" height="4.2" fill="none" stroke="#ff0000" stroke-width="1.25"/>
<rect x="386.02" y="404.46" width="4.2" height="4.2" fill="none" stroke="#ff0000" stroke-width="1.25"/>
<rect x="389.42" y="406.87" width="4.2" height="4.2" fill="none" stroke="#ff0000" stroke-width="1.25"/>
<rect x="392.81" y="409.03" width="4.2" height="4.2" fill="none" stroke="#ff0000" stroke-width="1.25"/>
<rect x="396.2" y="411.32" width="4.2" height="4.2" fill="none" stroke="#ff0000" stroke-width="1.25"/>
<rect x="399.6" y="413.6" width="4.2" height="4.2" fill="none" stroke="#ff0000" stroke-width="1.25"/>
<rect x="402.99" y="416.01" width="4.2" height="4.2" fill="none" stroke="#ff0000" stroke-width="1.25"/>
<rect x="406.39" y="418.05" width="4.2" height="4.2" fill="none" stroke="#ff0000" stroke-width="1.25"/>
<rect x="409.78" y="420.1" width="4.2" height="4.2" fill="none" stroke="#ff0000" stroke-width="1.25"/>
<rect x="413.17" y="422.14" width="4.2" height="4.2" fill="none" stroke="#ff0000" stroke-width="1.25"/>
<rect x="416.57" y="424.31" width="4.2" height="4.2" fill="none" stroke="#ff0000" stroke-width="1.25"/>
<rect x="419.96" y="426.23" width="4.2" height="4.2" fill="none" stroke="#ff0000" stroke-width="1.25"/>
<rect x="423.36" y="428.03" width="4.2" height="4.2" fill="none" stroke="#ff0000" stroke-width="1.25"/>
<rect x="426.75" y="429.96" width="4.2" height="4.2" fill="none" stroke="#ff0000" stroke-width="1.25"/>
<rect x="430.14" y="431.76" width="4.2" height="4.2" fill="none" stroke="#ff0000" stroke-width="1.25"/>
<rect x="433.54" y="433.45" width="4.2" height="4.2" fill="none" stroke="#ff0000" stroke-width="1.25"/>
<rect x="436.93" y="435.13" width="4.2" height="4.2" fill="none" stroke="#ff0000" stroke-width="1.25"/>
<rect x="440.33" y="436.7" width="4.2" height="4.2" fill="none" stroke="#ff0000" stroke-width="1.25"/>
<rect x="443.72" y="438.26" width="4.2" height="4.2" fill="none" stroke="#ff0000" stroke-width="1.25"/>
<rect x="447.11" y="440.09" width="4.2" height="4.2" fill="none" stroke="#ff0000" stroke-width="1.25"/>
<rect x="450.51" y="441.93" width="4.2" height="4.2" fill="none" stroke="#ff0000" stroke-width="1.25"/>
<rect x="453.9" y="443.76" width="4.2" height="4.2" fill="none" stroke="#ff0000" stroke-width="1.25"/>
<rect x="457.3" y="445.6" width="4.2" height="4.2" fill="none" stroke="#ff0000" stroke-width="1.25"/>
<rect x="460.69" y="447.46" width="4.2" height="4.2" fill="none" stroke="#ff0000" stroke-width="1.25"/>
<rect x="464.08" y="449.32" width="4.2" height="4.2" fill="none" stroke="#ff0000" stroke-width="1.25"/>
<rect x="467.48" y="451.19" width="4.2" height="4.2" fill="none" stroke="#ff0000" stroke-width="1.25"/>
<rect x="470.87" y="453.05" width="4.2" height="4.2" fill="none" stroke="#ff0000" stroke-width="1.25"/>
<rect x="474.27" y="454.77" width="4.2" height="4.2" fill="none" stroke="#ff0000" stroke-width="1.25"/>
<rect x="477.66" y="456.48" width="4.2" height="4.2" fill="none" stroke="#ff0000" stroke-width="1.25"/>
<rect x="481.05" y="458.2" width="4.2" height="4.2" fill="none" stroke="#ff0000" stroke-width="1.25"/>
<rect x="484.45" y="459.91" width="4.2" height="4.2" fill="none" stroke="#ff0000" stroke-width="1.25"/>
<rect x="487.84" y="461.53" width="4.2" height="4.2" fill="none" stroke="#ff0000" stroke-width="1.25"/>
<rect x="491.24" y="463.16" width="4.2" height="4.2" fill="none" stroke="#ff0000" stroke-width="1.25"/>
<rect x="494.63" y="464.78" width="4.2" height="4.2" fill="none" stroke="#ff0000" stroke-width="1.25"/>
<rect x="498.02" y="466.4" width="4.2" height="4.2" fill="none" stroke="#ff0000" stroke-width="1.25"/>
<rect x="501.42" y="467.73" width="4.2" height="4.2" fill="none" stroke="#ff0000" stroke-width="1.25"/>
<rect x="504.81" y="469.05" width="4.2" height="4.2" fill="none" stroke="#ff0000" stroke-width="1.25"/>
<line x1="507.91" y1="474.28" x2="512.1" y2="474.28" stroke="#ff0000" stroke-width="1.0"/>
</g>
<g id="frame">
<line x1="104.64" y1="132.5" x2="512.5" y2="132.5" stroke="#000" stroke-width="0.68"/>
<line x1="104.64" y1="561" x2="512.5" y2="561" stroke="#000" stroke-width="0.72"/>
<line x1="105.04" y1="132.5" x2="105.04" y2="561" stroke="#000" stroke-width="0.72"/>
<line x1="512.1" y1="132.5" x2="512.1" y2="561" stroke="#000" stroke-width="0.72"/>
<line x1="308.5" y1="132.5" x2="308.5" y2="561" stroke="#000" stroke-width="0.85"/>
<line x1="105.04" y1="346.5" x2="512.1" y2="346.5" stroke="#000" stroke-width="0.85"/>
</g>
<g id="labels">
<rect x="250.2" y="111.4" width="8.0" height="8.0" fill="none" stroke="#ff0000" stroke-width="1.55"/>
<text x="269.2" y="120.6" font-family='"Liberation Serif", serif' font-size="16" font-weight="bold" text-anchor="start" fill="#ff0000">1 f</text>
<rect x="331.5" y="111.4" width="7.8" height="7.7" fill="#0000ff"/>
<text x="350.6" y="120.9" font-family='"Liberation Serif", serif' font-size="16" font-weight="bold" text-anchor="start" fill="#0000ff">2 f</text>
<text x="72" y="138" font-family='"Liberation Serif", serif' font-size="16" font-weight="bold" text-anchor="start" fill="#000">10</text>
<text x="98.2" y="129.9" font-family='"Liberation Serif", serif' font-size="11.5" font-weight="bold" text-anchor="end" fill="#000">3</text>
<text x="72" y="173.67" font-family='"Liberation Serif", serif' font-size="16" font-weight="bold" text-anchor="start" fill="#000">10</text>
<text x="98.2" y="165.57" font-family='"Liberation Serif", serif' font-size="11.5" font-weight="bold" text-anchor="end" fill="#000">2</text>
<text x="71.6" y="209.13" font-family='"Liberation Serif", serif' font-size="16" font-weight="bold" text-anchor="start" fill="#000">10</text>
<text x="79.6" y="244.5" font-family='"Liberation Serif", serif' font-size="16" font-weight="bold" text-anchor="start" fill="#000">1</text>
<text x="66" y="280.67" font-family='"Liberation Serif", serif' font-size="16" font-weight="bold" text-anchor="start" fill="#000">10</text>
<text x="98.2" y="267.27" font-family='"Liberation Serif", serif' font-size="11.5" font-weight="bold" text-anchor="end" fill="#000">-1</text>
<text x="66" y="316.33" font-family='"Liberation Serif", serif' font-size="16" font-weight="bold" text-anchor="start" fill="#000">10</text>
<text x="98.2" y="302.93" font-family='"Liberation Serif", serif' font-size="11.5" font-weight="bold" text-anchor="end" fill="#000">-2</text>
<text x="66" y="352" font-family='"Liberation Serif", serif' font-size="16" font-weight="bold" text-anchor="start" fill="#000">10</text>
<text x="98.2" y="338.6" font-family='"Liberation Serif", serif' font-size="11.5" font-weight="bold" text-anchor="end" fill="#000">-3</text>
<text x="71.6" y="394.7" font-family='"Liberation Serif", serif' font-size="16" font-weight="bold" text-anchor="start" fill="#000">10</text>
<text x="79.6" y="437.3" font-family='"Liberation Serif", serif' font-size="16" font-weight="bold" text-anchor="start" fill="#000">1</text>
<text x="66" y="480" font-family='"Liberation Serif", serif' font-size="16" font-weight="bold" text-anchor="start" fill="#000">10</text>
<text x="98.2" y="467.3" font-family='"Liberation Serif", serif' font-size="11.5" font-weight="bold" text-anchor="end" fill="#000">-1</text>
<text x="66" y="522.9" font-family='"Liberation Serif", serif' font-size="16" font-weight="bold" text-anchor="start" fill="#000">10</text>
<text x="98.2" y="510.2" font-family='"Liberation Serif", serif' font-size="11.5" font-weight="bold" text-anchor="end" fill="#000">-2</text>
<text x="66" y="565.8" font-family='"Liberation Serif", serif' font-size="16" font-weight="bold" text-anchor="start" fill="#000">10</text>
<text x="98.2" y="553.1" font-family='"Liberation Serif", serif' font-size="11.5" font-weight="bold" text-anchor="end" fill="#000">-3</text>
<text x="105.04" y="577.6" font-family='"Liberation Serif", serif' font-size="16" font-weight="bold" text-anchor="middle" fill="#000">0</text>
<text x="155.91" y="577.6" font-family='"Liberation Serif", serif' font-size="16" font-weight="bold" text-anchor="middle" fill="#000">25</text>
<text x="206.77" y="577.6" font-family='"Liberation Serif", serif' font-size="16" font-weight="bold" text-anchor="middle" fill="#000">50</text>
<text x="257.63" y="577.6" font-family='"Liberation Serif", serif' font-size="16" font-weight="bold" text-anchor="middle" fill="#000">75</text>
<text x="308.5" y="577.6" font-family='"Liberation Serif", serif' font-size="16" font-weight="bold" text-anchor="middle" fill="#000">0</text>
<text x="376.37" y="577.6" font-family='"Liberation Serif", serif' font-size="16" font-weight="bold" text-anchor="middle" fill="#000">50</text>
<text x="444.23" y="577.6" font-family='"Liberation Serif", serif' font-size="16" font-weight="bold" text-anchor="middle" fill="#000">100</text>
<text x="512.1" y="577.6" font-family='"Liberation Serif", serif' font-size="16" font-weight="bold" text-anchor="middle" fill="#000">150</text>
<text x="164.9" y="592.7" font-family='"Liberation Serif", serif' font-size="19" font-weight="bold" text-anchor="start" fill="#000">p</text>
<text x="175.3" y="599.3" font-family='"Liberation Serif", serif' font-size="13.5" font-weight="bold" text-anchor="start" fill="#000">T</text>
<text x="187.6" y="599.5" font-family='"Liberation Serif", serif' font-size="13" font-weight="bold" text-anchor="start" fill="#000">&#960;</text>
<text x="199.6" y="592.7" font-family='"Liberation Serif", serif' font-size="19" font-weight="bold" text-anchor="start" fill="#000">(GeV)</text>
<text x="368.9" y="592.7" font-family='"Liberation Serif", serif' font-size="19" font-weight="bold" text-anchor="start" fill="#000">p</text>
<text x="380" y="599.3" font-family='"Liberation Serif", serif' font-size="13.5" font-weight="bold" text-anchor="start" fill="#000">T</text>
<text x="392.4" y="598.7" font-family='"Liberation Serif", serif' font-size="15" font-weight="normal" text-anchor="start" fill="#000">&#947;</text>
<text x="402.1" y="592.7" font-family='"Liberation Serif", serif' font-size="19" font-weight="bold" text-anchor="start" fill="#000">(GeV)</text>
<g transform="translate(53.6,318.6) rotate(-90)">
<text x="0" y="0" font-family='"Liberation Serif", serif' font-size="19" font-weight="bold" text-anchor="start" fill="#000">d&#963; / dp</text>
<g transform="translate(58.5,6.3) scale(0.8,1)">
<text x="0" y="0" font-family='"Liberation Serif", serif' font-size="14" font-weight="bold" text-anchor="start" fill="#000">T</text>
</g>
<g transform="translate(69.9,5.8) scale(0.87,1)">
<text x="0" y="0" font-family='"Liberation Serif", serif' font-size="15" font-weight="bold" text-anchor="start" fill="#000">&#960;</text>
</g>
<text x="82" y="0" font-family='"Liberation Serif", serif' font-size="19" font-weight="bold" text-anchor="start" fill="#000">(pb/GeV)</text>
</g>
<g transform="translate(540.4,318) rotate(-90)">
<text x="0" y="0" font-family='"Liberation Serif", serif' font-size="19" font-weight="bold" text-anchor="start" fill="#000">d&#963; / dp</text>
<g transform="translate(58.5,6.3) scale(0.8,1)">
<text x="0" y="0" font-family='"Liberation Serif", serif' font-size="14" font-weight="bold" text-anchor="start" fill="#000">T</text>
</g>
<g transform="translate(70.3,5.6) scale(0.9,1)">
<text x="0" y="0" font-family='"Liberation Serif", serif' font-size="15" font-weight="normal" text-anchor="start" fill="#000">&#947;</text>
</g>
<text x="80.4" y="0" font-family='"Liberation Serif", serif' font-size="19" font-weight="bold" text-anchor="start" fill="#000">(pb/GeV)</text>
</g>
<g transform="translate(53.6,533.1) rotate(-90)">
<text x="0" y="0" font-family='"Liberation Serif", serif' font-size="19" font-weight="bold" text-anchor="start" fill="#000">d&#963; / dp</text>
<g transform="translate(58.5,6.3) scale(0.8,1)">
<text x="0" y="0" font-family='"Liberation Serif", serif' font-size="14" font-weight="bold" text-anchor="start" fill="#000">T</text>
</g>
<g transform="translate(69.9,5.8) scale(0.87,1)">
<text x="0" y="0" font-family='"Liberation Serif", serif' font-size="15" font-weight="bold" text-anchor="start" fill="#000">&#960;</text>
</g>
<text x="82" y="0" font-family='"Liberation Serif", serif' font-size="19" font-weight="bold" text-anchor="start" fill="#000">(pb/GeV)</text>
</g>
<g transform="translate(540.4,532.5) rotate(-90)">
<text x="0" y="0" font-family='"Liberation Serif", serif' font-size="19" font-weight="bold" text-anchor="start" fill="#000">d&#963; / dp</text>
<g transform="translate(58.5,6.3) scale(0.8,1)">
<text x="0" y="0" font-family='"Liberation Serif", serif' font-size="14" font-weight="bold" text-anchor="start" fill="#000">T</text>
</g>
<g transform="translate(70.3,5.6) scale(0.9,1)">
<text x="0" y="0" font-family='"Liberation Serif", serif' font-size="15" font-weight="normal" text-anchor="start" fill="#000">&#947;</text>
</g>
<text x="80.4" y="0" font-family='"Liberation Serif", serif' font-size="19" font-weight="bold" text-anchor="start" fill="#000">(pb/GeV)</text>
</g>
<text x="115.1" y="325.5" font-family='"Liberation Sans", sans-serif' font-size="16.4" font-weight="normal" text-anchor="start" fill="#000">p</text>
<text x="123.9" y="331.5" font-family='"Liberation Sans", sans-serif' font-size="12" font-weight="normal" text-anchor="start" fill="#000">T</text>
<g transform="translate(134.1,330.3) scale(1.12,1)">
<text x="0" y="0" font-family='"Liberation Serif", serif' font-size="12.5" font-weight="normal" text-anchor="start" fill="#000">&#947;</text>
</g>
<text x="143.3" y="327" font-family='"Liberation Sans", sans-serif' font-size="16.4" font-weight="normal" text-anchor="start" fill="#000">&gt;</text>
<text x="157.4" y="325.5" font-family='"Liberation Sans", sans-serif' font-size="16" font-weight="normal" text-anchor="start" fill="#000">25 GeV</text>
<text x="325.1" y="325.5" font-family='"Liberation Sans", sans-serif' font-size="16.4" font-weight="normal" text-anchor="start" fill="#000">p</text>
<text x="333.9" y="331.5" font-family='"Liberation Sans", sans-serif' font-size="12" font-weight="normal" text-anchor="start" fill="#000">T</text>
<g transform="translate(344.1,330.3) scale(1.12,1)">
<text x="0" y="0" font-family='"Liberation Serif", serif' font-size="12.5" font-weight="normal" text-anchor="start" fill="#000">&#947;</text>
</g>
<text x="353.3" y="327" font-family='"Liberation Sans", sans-serif' font-size="16.4" font-weight="normal" text-anchor="start" fill="#000">&gt;</text>
<text x="367.4" y="325.5" font-family='"Liberation Sans", sans-serif' font-size="16" font-weight="normal" text-anchor="start" fill="#000">25 GeV</text>
<text x="115.1" y="535.6" font-family='"Liberation Sans", sans-serif' font-size="16.4" font-weight="normal" text-anchor="start" fill="#000">p</text>
<text x="123.9" y="541.6" font-family='"Liberation Sans", sans-serif' font-size="12" font-weight="normal" text-anchor="start" fill="#000">T</text>
<g transform="translate(134.1,540.4) scale(1.12,1)">
<text x="0" y="0" font-family='"Liberation Serif", serif' font-size="12.5" font-weight="normal" text-anchor="start" fill="#000">&#947;</text>
</g>
<text x="143.3" y="537.1" font-family='"Liberation Sans", sans-serif' font-size="16.4" font-weight="normal" text-anchor="start" fill="#000">&gt;</text>
<text x="157.4" y="535.6" font-family='"Liberation Sans", sans-serif' font-size="16" font-weight="normal" text-anchor="start" fill="#000">50 GeV</text>
<text x="325.1" y="535.6" font-family='"Liberation Sans", sans-serif' font-size="16.4" font-weight="normal" text-anchor="start" fill="#000">p</text>
<text x="333.9" y="541.6" font-family='"Liberation Sans", sans-serif' font-size="12" font-weight="normal" text-anchor="start" fill="#000">T</text>
<g transform="translate(344.1,540.4) scale(1.12,1)">
<text x="0" y="0" font-family='"Liberation Serif", serif' font-size="12.5" font-weight="normal" text-anchor="start" fill="#000">&#947;</text>
</g>
<text x="353.3" y="537.1" font-family='"Liberation Sans", sans-serif' font-size="16.4" font-weight="normal" text-anchor="start" fill="#000">&gt;</text>
<text x="367.4" y="535.6" font-family='"Liberation Sans", sans-serif' font-size="16" font-weight="normal" text-anchor="start" fill="#000">50 GeV</text>
</g>
</svg>
</body></html>
